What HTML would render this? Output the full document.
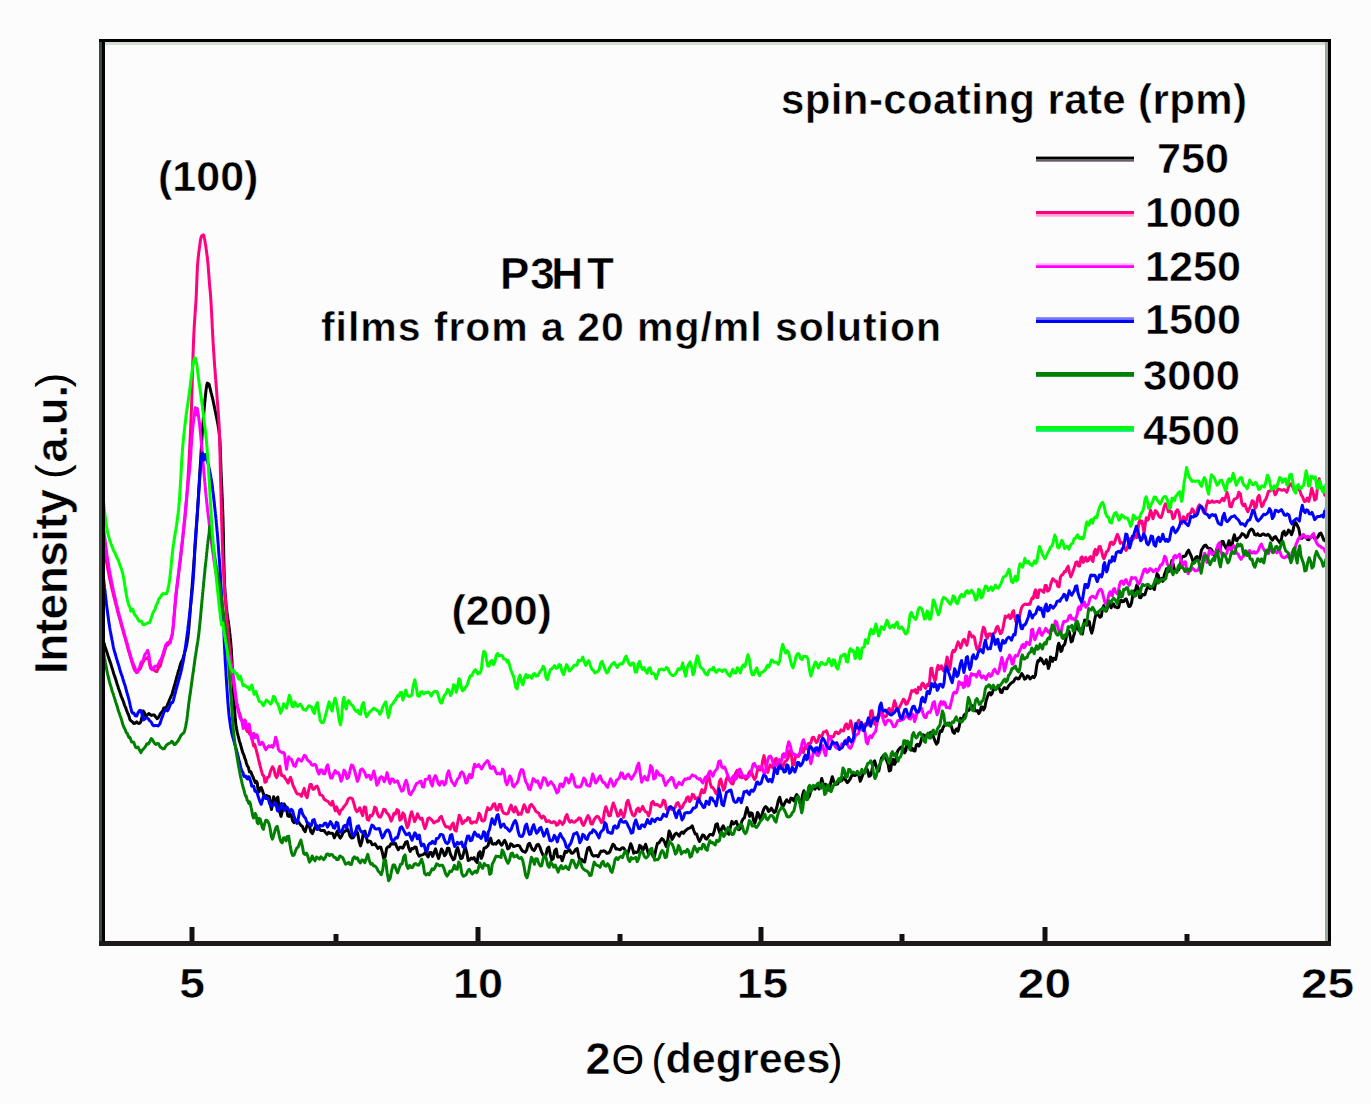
<!DOCTYPE html>
<html><head><meta charset="utf-8"><style>
html,body{margin:0;padding:0;background:#fff;width:1371px;height:1104px;overflow:hidden}
svg{display:block;font-family:"Liberation Sans", sans-serif}
</style></head><body>
<svg width="1371" height="1104" viewBox="0 0 1371 1104">
<rect x="0" y="0" width="1371" height="1104" fill="#fcfcfd"/>
<g clip-path="url(#cp)">
<clipPath id="cp"><rect x="104" y="43" width="1222" height="898"/></clipPath>
<path id="c_black" d="M103.0,638.0 103.0,639.3 103.0,640.6 103.4,641.7 103.9,642.8 104.4,644.3 104.8,645.9 105.3,647.4 105.8,648.9 106.2,650.3 106.7,651.7 107.2,653.1 107.7,654.6 108.1,656.0 108.6,657.5 109.1,658.9 109.5,660.3 110.0,661.6 110.5,662.9 111.0,664.3 111.4,665.9 111.9,667.5 112.4,668.9 112.8,670.4 113.3,672.1 113.7,673.7 114.2,675.0 114.6,676.1 115.1,677.5 115.6,679.1 116.0,680.4 116.5,681.7 116.9,683.5 117.4,685.0 117.9,686.2 118.3,687.7 118.8,689.2 119.3,690.5 119.8,691.9 120.3,693.4 120.8,695.0 121.3,696.5 121.8,697.7 122.4,699.0 122.9,700.3 123.4,701.5 123.8,702.8 124.3,704.4 124.8,705.8 125.3,706.8 125.8,707.9 126.3,709.5 126.8,710.9 127.3,712.2 127.9,713.7 128.5,714.8 129.1,716.7 129.8,719.2 130.6,720.6 131.5,721.0 132.5,722.1 133.9,723.6 135.4,723.0 136.7,721.9 137.8,722.9 138.9,723.6 140.0,722.9 141.0,721.2 142.1,716.4 143.2,710.9 144.4,712.6 145.8,716.5 147.3,715.0 148.8,713.5 150.2,714.6 151.6,715.4 152.9,715.0 154.3,714.9 155.8,717.1 157.2,718.7 158.7,717.1 160.0,714.4 161.2,712.6 162.2,711.7 163.1,709.8 163.9,707.9 164.7,707.8 165.4,707.8 166.1,707.5 166.8,706.5 167.4,704.7 168.0,703.3 168.6,702.1 169.2,700.5 169.8,699.1 170.4,697.9 170.9,696.5 171.5,695.3 172.0,694.2 172.5,692.7 172.9,690.8 173.4,689.1 173.8,687.8 174.2,686.4 174.6,685.0 175.0,683.7 175.4,682.2 175.8,680.7 176.2,679.2 176.6,677.6 177.0,676.2 177.4,674.9 177.8,673.4 178.2,671.9 178.6,670.5 179.1,669.2 179.5,667.7 180.0,665.9 180.5,664.2 181.0,662.7 181.5,661.6 182.0,660.7 182.6,659.7 183.1,658.2 183.5,656.5 184.0,654.8 184.5,653.2 184.9,651.7 185.3,650.3 185.7,649.0 186.0,647.6 186.4,646.2 186.7,644.8 186.9,643.3 187.2,641.8 187.4,640.4 187.6,638.9 187.9,637.4 188.0,635.9 188.2,634.4 188.4,632.9 188.5,631.4 188.7,629.9 188.8,628.4 189.0,626.9 189.1,625.4 189.2,623.9 189.3,622.4 189.4,620.9 189.5,619.4 189.7,618.0 189.8,616.5 189.9,615.0 190.0,613.5 190.1,612.0 190.2,610.5 190.3,609.0 190.4,607.5 190.5,606.0 190.6,604.5 190.8,603.0 190.9,601.5 191.0,600.0 191.1,598.5 191.2,597.0 191.4,595.5 191.5,594.0 191.6,592.5 191.7,591.0 191.8,589.5 192.0,588.0 192.1,586.5 192.2,585.1 192.3,583.6 192.4,582.1 192.6,580.6 192.7,579.1 192.8,577.6 192.9,576.1 193.0,574.6 193.1,573.1 193.2,571.6 193.4,570.1 193.5,568.6 193.6,567.1 193.7,565.6 193.8,564.1 193.9,562.6 194.0,561.1 194.2,559.6 194.3,558.1 194.4,556.6 194.5,555.1 194.6,553.6 194.7,552.1 194.8,550.6 194.9,549.2 195.0,547.7 195.1,546.2 195.2,544.7 195.4,543.2 195.5,541.7 195.6,540.2 195.7,538.7 195.8,537.2 195.9,535.7 196.0,534.2 196.1,532.7 196.2,531.2 196.3,529.7 196.4,528.2 196.5,526.7 196.6,525.2 196.7,523.7 196.8,522.2 196.9,520.7 197.0,519.2 197.1,517.7 197.2,516.2 197.3,514.7 197.4,513.2 197.5,511.7 197.5,510.2 197.6,508.7 197.7,507.2 197.8,505.8 197.9,504.3 198.0,502.8 198.1,501.3 198.2,499.8 198.3,498.3 198.4,496.8 198.5,495.3 198.6,493.8 198.6,492.3 198.7,490.8 198.8,489.3 198.9,487.8 199.0,486.3 199.1,484.8 199.2,483.3 199.3,481.8 199.4,480.3 199.5,478.8 199.6,477.3 199.6,475.8 199.7,474.3 199.8,472.8 199.9,471.3 200.0,469.8 200.1,468.3 200.2,466.8 200.3,465.3 200.4,463.8 200.5,462.3 200.6,460.8 200.7,459.3 200.7,457.8 200.8,456.3 200.9,454.8 201.0,453.3 201.1,451.9 201.2,450.4 201.3,448.9 201.4,447.4 201.5,445.9 201.6,444.4 201.7,442.9 201.7,441.4 201.8,439.9 201.9,438.4 202.0,436.9 202.1,435.4 202.2,433.9 202.3,432.4 202.4,430.9 202.5,429.4 202.7,427.9 202.8,426.4 202.9,424.9 203.0,423.4 203.1,421.9 203.2,420.4 203.3,418.9 203.4,417.4 203.6,415.9 203.7,414.4 203.8,412.9 203.9,411.4 204.1,410.0 204.2,408.5 204.3,407.0 204.5,405.5 204.6,404.0 204.7,402.5 204.9,401.0 205.1,399.5 205.2,398.0 205.4,396.5 205.5,395.0 205.7,393.5 205.8,392.1 206.0,390.6 206.2,389.1 206.4,387.6 206.6,386.1 206.9,384.6 207.3,383.1 208.2,386.0 208.8,383.9 209.3,384.9 209.6,386.4 210.0,387.9 210.4,389.5 210.7,391.2 211.1,392.6 211.5,393.8 211.8,395.4 212.2,396.8 212.5,398.2 212.9,399.7 213.2,401.2 213.5,402.7 213.8,404.2 214.1,405.5 214.4,406.9 214.7,408.4 215.0,410.0 215.3,411.4 215.6,412.8 215.9,414.3 216.2,415.8 216.5,417.1 216.8,418.7 217.1,420.3 217.4,421.7 217.7,423.2 218.0,424.7 218.2,426.2 218.5,427.7 218.7,429.2 218.9,430.6 219.1,432.1 219.2,433.6 219.4,435.1 219.5,436.6 219.7,438.1 219.8,439.6 219.9,441.1 220.0,442.6 220.1,444.1 220.1,445.6 220.2,447.1 220.3,448.6 220.3,450.1 220.4,451.6 220.4,453.1 220.5,454.6 220.5,456.1 220.6,457.6 220.6,459.1 220.7,460.6 220.7,462.1 220.8,463.6 220.8,465.1 220.9,466.6 220.9,468.1 221.0,469.5 221.0,471.0 221.1,472.5 221.2,474.0 221.2,475.5 221.3,477.0 221.4,478.5 221.4,480.0 221.5,481.5 221.6,483.0 221.6,484.5 221.7,486.0 221.8,487.5 221.8,489.0 221.9,490.5 221.9,492.0 222.0,493.5 222.1,495.0 222.1,496.5 222.2,498.0 222.3,499.5 222.3,501.0 222.4,502.5 222.4,504.0 222.5,505.5 222.5,507.0 222.6,508.5 222.7,510.0 222.7,511.5 222.8,513.0 222.8,514.5 222.9,516.0 222.9,517.5 223.0,519.0 223.0,520.5 223.1,522.0 223.1,523.5 223.1,525.0 223.2,526.5 223.2,528.0 223.3,529.5 223.3,531.0 223.3,532.5 223.4,534.0 223.4,535.5 223.4,537.0 223.4,538.5 223.5,540.0 223.5,541.5 223.5,543.0 223.6,544.5 223.6,546.0 223.6,547.5 223.6,549.0 223.7,550.5 223.7,552.0 223.7,553.5 223.7,555.0 223.8,556.5 223.8,558.0 223.8,559.5 223.9,561.0 223.9,562.5 223.9,564.0 224.0,565.5 224.0,567.0 224.0,568.5 224.1,570.0 224.1,571.5 224.2,573.0 224.2,574.5 224.3,576.0 224.3,577.5 224.4,579.0 224.4,580.5 224.5,582.0 224.6,583.5 224.6,585.0 224.7,586.5 224.8,588.0 224.9,589.5 224.9,591.0 225.0,592.5 225.1,594.0 225.3,595.5 225.4,597.0 225.5,598.5 225.6,600.0 225.8,601.4 225.9,602.9 226.1,604.4 226.2,605.9 226.4,607.4 226.6,608.9 226.8,610.4 226.9,611.9 227.1,613.4 227.3,614.8 227.5,616.3 227.7,617.8 227.9,619.3 228.2,620.8 228.4,622.3 228.6,623.8 228.8,625.3 229.0,626.8 229.2,628.2 229.4,629.7 229.6,631.2 229.7,632.7 229.9,634.2 230.1,635.7 230.2,637.2 230.4,638.6 230.5,640.1 230.7,641.6 230.8,643.1 230.9,644.6 231.0,646.1 231.2,647.6 231.3,649.1 231.4,650.6 231.5,652.1 231.5,653.6 231.6,655.1 231.7,656.6 231.8,658.1 231.9,659.6 232.0,661.1 232.1,662.6 232.1,664.1 232.2,665.6 232.3,667.1 232.3,668.6 232.4,670.1 232.5,671.6 232.6,673.1 232.6,674.6 232.7,676.1 232.8,677.6 232.8,679.1 232.9,680.6 233.0,682.1 233.0,683.6 233.1,685.1 233.2,686.6 233.3,688.1 233.4,689.6 233.4,691.1 233.5,692.6 233.6,694.1 233.7,695.6 233.8,697.1 233.9,698.5 234.0,700.0 234.1,701.5 234.2,703.0 234.3,704.5 234.4,706.0 234.5,707.5 234.6,709.0 234.7,710.5 234.8,712.0 234.9,713.5 235.0,715.0 235.1,716.5 235.2,718.0 235.3,719.5 235.5,721.0 235.6,722.5 235.8,724.0 236.0,725.5 236.3,727.0 236.5,728.5 236.8,730.1 237.1,731.6 237.4,733.1 237.8,734.5 238.1,735.9 238.5,737.2 238.9,738.9 239.2,740.5 239.6,741.7 240.0,742.7 240.4,744.3 240.9,745.9 241.3,747.3 241.7,749.0 242.2,750.5 242.6,752.0 243.1,753.4 243.5,754.1 244.0,755.3 244.5,757.1 244.9,758.5 245.4,759.3 245.9,761.1 246.4,763.2 246.9,764.6 247.4,765.9 248.0,766.7 248.5,767.7 249.0,770.1 249.6,772.1 250.2,772.1 250.7,771.7 251.3,772.9 252.0,774.9 252.6,776.1 253.3,777.7 254.0,779.7 254.7,781.1 255.5,782.8 256.3,781.4 257.2,782.7 258.1,790.0 259.1,791.8 260.1,788.3 261.2,787.5 262.2,790.0 263.3,793.2 264.3,796.9 265.4,797.9 266.4,795.3 267.4,796.1 268.5,796.3 269.5,796.9 270.5,805.1 271.5,809.5 272.6,802.8 273.6,796.7 274.6,801.1 275.7,804.8 276.7,798.6 277.8,797.0 278.8,804.9 279.9,812.4 281.0,816.4 282.1,812.2 283.2,804.0 284.3,804.1 285.5,806.4 286.6,809.4 287.8,815.9 289.0,816.4 290.2,813.9 291.5,816.2 292.7,821.0 294.0,822.7 295.4,821.1 296.7,820.8 298.1,821.2 299.5,823.4 300.9,825.4 302.3,826.2 303.7,829.7 305.1,831.7 306.6,826.7 308.0,823.1 309.5,826.6 311.0,832.0 312.4,833.6 313.9,829.9 315.4,826.5 316.8,825.5 318.3,826.9 319.8,829.8 321.2,830.6 322.7,830.4 324.2,830.6 325.6,832.8 327.1,834.3 328.5,832.4 330.0,833.3 331.4,833.3 332.9,833.7 334.3,837.9 335.8,834.7 337.3,831.0 338.7,835.5 340.2,838.1 341.6,836.1 343.1,832.7 344.5,831.5 346.0,830.5 347.4,829.0 348.9,832.2 350.3,836.7 351.8,838.1 353.2,837.6 354.7,835.3 356.2,831.0 357.6,832.8 359.1,841.3 360.5,845.9 362.0,841.0 363.4,832.5 364.9,831.0 366.3,837.4 367.8,842.2 369.2,841.0 370.7,841.7 372.1,844.7 373.6,844.6 375.0,843.9 376.5,846.2 377.9,848.4 379.3,847.1 380.8,847.3 382.2,851.9 383.7,858.4 385.1,857.0 386.6,848.4 388.0,846.8 389.5,846.7 390.9,843.7 392.4,844.0 393.9,843.9 395.3,843.3 396.8,846.9 398.3,849.7 399.7,847.3 401.2,847.2 402.7,848.2 404.2,845.3 405.7,842.1 407.2,841.6 408.7,847.8 410.2,851.4 411.7,848.5 413.1,848.9 414.6,847.1 416.1,847.2 417.6,853.3 419.1,856.1 420.6,855.2 422.1,854.9 423.6,854.4 425.1,852.6 426.6,854.7 428.1,856.9 429.6,852.8 431.1,852.4 432.6,856.4 434.1,852.4 435.6,848.9 437.1,854.5 438.6,858.6 440.0,854.1 441.5,849.0 443.0,851.4 444.5,855.8 445.9,854.3 447.4,848.2 448.9,848.2 450.3,854.0 451.8,857.1 453.3,859.8 454.7,858.5 456.2,850.7 457.7,847.6 459.2,853.4 460.7,858.6 462.2,858.0 463.7,852.8 465.2,847.3 466.7,852.1 468.2,860.5 469.7,859.8 471.2,858.0 472.7,858.9 474.1,857.5 475.6,860.9 477.1,862.4 478.5,853.5 480.0,851.6 481.4,858.4 482.8,854.7 484.1,848.0 485.5,847.8 486.8,846.8 488.1,845.4 489.4,840.2 490.7,838.2 492.0,843.6 493.3,844.3 494.6,843.6 496.0,844.2 497.4,841.9 498.8,840.7 500.2,843.5 501.7,845.2 503.2,842.7 504.7,840.3 506.2,843.3 507.7,848.9 509.2,848.0 510.7,843.8 512.1,844.6 513.6,846.6 515.1,846.1 516.6,845.6 518.0,845.4 519.5,845.9 520.9,848.6 522.4,850.9 523.8,851.7 525.3,852.3 526.7,849.9 528.2,844.4 529.6,843.3 531.1,846.8 532.5,849.6 534.0,850.6 535.5,848.2 536.9,844.9 538.4,844.4 539.9,847.0 541.3,851.3 542.8,854.7 544.3,856.3 545.8,855.5 547.3,848.8 548.8,847.0 550.3,854.6 551.7,859.8 553.2,858.8 554.7,850.8 556.2,849.0 557.7,857.0 559.2,856.9 560.7,856.3 562.2,860.8 563.7,856.3 565.2,851.3 566.7,852.3 568.2,850.4 569.7,849.8 571.2,853.0 572.7,853.3 574.2,851.8 575.7,849.3 577.2,848.6 578.7,856.1 580.2,861.4 581.7,859.4 583.2,861.5 584.7,862.0 586.2,854.4 587.7,848.2 589.2,847.3 590.7,851.0 592.1,854.8 593.6,856.1 595.1,855.8 596.6,855.6 598.1,856.7 599.6,853.8 601.0,851.1 602.5,851.4 604.0,850.7 605.5,851.8 607.0,853.4 608.4,853.1 609.9,851.6 611.4,847.9 612.9,844.2 614.4,845.5 615.9,848.9 617.3,848.8 618.8,849.3 620.3,849.8 621.8,848.0 623.3,847.8 624.8,849.6 626.3,852.8 627.8,853.6 629.2,848.8 630.7,843.7 632.2,847.1 633.7,853.2 635.2,852.0 636.7,852.5 638.2,851.7 639.7,845.4 641.2,846.4 642.6,850.9 644.1,848.1 645.6,844.2 647.1,849.2 648.6,854.3 650.1,852.4 651.5,851.9 653.0,856.2 654.5,856.5 656.0,848.8 657.5,843.2 658.9,843.0 660.4,840.6 661.8,838.6 663.3,839.7 664.8,842.7 666.2,846.5 667.7,840.4 669.1,831.0 670.6,834.0 672.0,839.5 673.5,837.2 674.9,834.1 676.3,833.1 677.8,834.3 679.2,836.2 680.7,833.2 682.1,832.0 683.6,833.3 685.0,831.1 686.4,829.8 687.9,828.6 689.3,828.1 690.8,827.4 692.2,825.8 693.7,830.3 695.2,834.0 696.6,834.0 698.1,838.6 699.6,841.5 701.0,838.3 702.5,835.0 704.0,835.4 705.5,838.5 706.9,839.1 708.4,836.4 709.9,834.5 711.4,834.5 712.8,835.3 714.3,831.0 715.8,824.5 717.3,823.7 718.8,830.1 720.2,834.1 721.7,828.2 723.2,825.8 724.7,829.0 726.1,830.5 727.6,833.1 729.0,834.2 730.5,826.5 731.9,821.4 733.4,824.0 734.8,823.0 736.2,821.3 737.6,825.0 739.0,829.7 740.4,828.2 741.7,821.7 743.1,818.8 744.4,818.0 745.7,812.4 747.0,807.6 748.3,812.1 749.6,816.4 750.9,812.8 752.2,813.3 753.5,820.2 754.8,823.4 756.2,818.8 757.5,812.4 758.8,814.3 760.2,819.1 761.6,816.7 763.0,811.1 764.3,808.0 765.7,806.6 767.1,807.9 768.5,811.4 769.9,810.5 771.3,808.2 772.7,810.2 774.1,812.6 775.5,811.5 776.9,807.0 778.3,800.6 779.7,797.2 781.1,802.4 782.5,806.7 783.9,805.0 785.3,801.9 786.7,799.8 788.1,801.7 789.5,802.3 791.0,798.1 792.4,798.5 793.9,800.9 795.3,797.4 796.7,794.5 798.2,796.7 799.6,802.3 801.0,804.0 802.5,795.2 803.9,790.8 805.3,797.2 806.8,799.8 808.2,798.1 809.6,795.7 810.9,790.2 812.3,786.9 813.7,788.5 815.0,789.2 816.3,787.0 817.7,785.6 819.0,789.0 820.3,785.0 821.7,778.5 823.0,783.0 824.3,787.0 825.6,784.3 826.9,785.6 828.3,790.1 829.6,788.4 830.9,781.8 832.3,776.7 833.6,780.9 834.9,784.6 836.3,784.3 837.6,784.1 839.0,781.2 840.3,780.4 841.7,780.8 843.1,778.5 844.5,777.3 845.9,780.6 847.3,782.6 848.7,781.2 850.1,779.2 851.6,775.9 853.0,774.0 854.5,775.6 855.9,775.0 857.4,771.6 858.8,775.2 860.3,781.3 861.7,777.7 863.2,773.5 864.7,772.7 866.1,768.1 867.6,770.1 869.0,776.3 870.4,775.7 871.9,770.3 873.3,762.5 874.7,760.8 876.1,766.3 877.5,771.2 878.8,771.0 880.2,763.7 881.5,758.1 882.9,756.3 884.2,754.8 885.5,757.9 886.8,761.0 888.1,764.3 889.3,770.9 890.6,770.2 891.9,761.3 893.2,759.2 894.4,764.4 895.7,762.1 896.9,753.4 898.2,750.0 899.4,748.9 900.7,747.3 902.0,746.8 903.2,748.3 904.5,752.9 905.8,750.7 907.1,743.2 908.4,742.3 909.7,747.3 911.0,750.2 912.3,748.3 913.6,750.8 915.0,751.0 916.3,745.0 917.6,744.2 919.0,746.1 920.3,743.5 921.7,738.0 923.1,734.7 924.4,735.8 925.8,736.9 927.1,734.8 928.5,733.9 929.8,732.8 931.2,732.2 932.5,734.5 933.9,737.9 935.2,741.6 936.5,744.1 937.9,742.4 939.2,734.5 940.5,730.7 941.8,731.4 943.1,727.6 944.4,725.4 945.6,724.5 946.9,724.5 948.2,724.9 949.4,723.2 950.7,724.5 951.9,728.2 953.1,732.2 954.4,733.3 955.6,730.0 956.8,728.8 958.0,731.2 959.3,726.2 960.5,718.3 961.7,719.0 962.9,718.8 964.1,715.1 965.3,714.4 966.6,712.2 967.8,709.9 969.0,710.3 970.2,707.9 971.4,706.2 972.7,705.8 973.9,706.3 975.1,710.7 976.3,710.9 977.6,710.6 978.8,713.7 980.0,711.8 981.2,707.1 982.4,707.0 983.6,709.9 984.9,707.3 986.1,700.8 987.3,697.2 988.5,693.6 989.7,692.5 990.9,694.9 992.1,693.6 993.3,689.8 994.6,689.5 995.8,689.4 997.0,687.7 998.2,687.3 999.5,688.8 1000.7,692.3 1002.0,692.4 1003.2,688.9 1004.5,687.5 1005.7,688.7 1007.0,688.7 1008.3,686.4 1009.6,684.7 1010.9,683.4 1012.2,682.4 1013.6,681.6 1014.9,679.0 1016.3,677.7 1017.7,678.9 1019.0,678.8 1020.4,676.1 1021.8,673.5 1023.2,675.8 1024.6,679.2 1025.9,678.5 1027.3,675.9 1028.7,676.5 1030.1,678.9 1031.4,677.8 1032.7,676.4 1034.1,677.6 1035.4,675.3 1036.7,665.6 1037.9,660.8 1039.2,661.0 1040.4,658.1 1041.6,659.1 1042.8,661.9 1043.9,663.9 1045.1,663.1 1046.2,659.7 1047.3,662.9 1048.4,668.4 1049.5,665.2 1050.5,656.9 1051.6,658.0 1052.6,661.4 1053.7,658.4 1054.7,658.8 1055.7,659.4 1056.8,654.1 1057.8,646.4 1058.8,643.2 1059.8,646.6 1060.9,651.5 1061.9,650.5 1062.9,645.9 1063.9,645.4 1064.9,643.6 1066.0,638.3 1067.0,633.4 1068.0,630.6 1069.1,631.2 1070.1,636.1 1071.2,641.9 1072.3,641.1 1073.4,636.5 1074.5,633.3 1075.6,626.2 1076.7,622.3 1077.8,628.3 1079.0,630.5 1080.1,628.8 1081.2,632.3 1082.4,634.0 1083.5,627.2 1084.7,619.9 1085.8,622.6 1087.0,625.1 1088.2,621.0 1089.3,621.6 1090.5,629.0 1091.7,633.1 1092.9,629.1 1094.1,622.5 1095.3,616.8 1096.5,612.7 1097.7,613.6 1098.9,615.9 1100.1,617.2 1101.3,616.3 1102.5,609.0 1103.8,605.6 1105.0,609.4 1106.2,611.1 1107.4,608.0 1108.7,602.9 1109.9,604.2 1111.1,607.8 1112.4,605.1 1113.6,603.8 1114.9,606.9 1116.2,607.0 1117.4,607.8 1118.7,607.2 1119.9,601.6 1121.2,600.0 1122.5,601.8 1123.8,601.6 1125.0,599.5 1126.3,599.0 1127.6,602.7 1128.9,606.5 1130.2,606.2 1131.5,603.0 1132.8,595.2 1134.1,591.1 1135.5,590.2 1136.8,585.1 1138.2,588.1 1139.5,597.5 1140.9,597.8 1142.2,594.2 1143.6,595.1 1145.0,594.5 1146.3,589.9 1147.7,587.3 1149.0,587.9 1150.4,588.5 1151.7,587.6 1153.1,587.7 1154.4,589.5 1155.7,582.2 1157.0,573.6 1158.3,575.3 1159.5,580.5 1160.7,580.3 1161.7,578.3 1162.7,581.4 1163.4,580.5 1164.1,576.1 1164.6,574.0 1165.1,573.0 1165.7,571.2 1166.4,568.8 1167.2,571.4 1168.2,571.7 1169.4,570.9 1170.6,567.2 1171.9,560.4 1173.2,564.3 1174.6,570.6 1175.9,571.5 1177.3,570.2 1178.7,570.1 1180.1,565.9 1181.5,558.2 1182.9,556.3 1184.3,556.5 1185.7,555.6 1187.1,552.1 1188.6,550.2 1190.0,553.5 1191.4,556.4 1192.8,560.9 1194.3,562.8 1195.7,557.4 1197.1,556.5 1198.6,561.4 1200.0,557.9 1201.4,550.2 1202.9,547.8 1204.3,545.6 1205.8,545.1 1207.2,547.4 1208.7,548.2 1210.1,548.5 1211.6,549.6 1213.0,552.8 1214.5,555.8 1216.0,551.4 1217.4,547.4 1218.9,550.9 1220.3,548.8 1221.8,541.6 1223.2,541.5 1224.7,545.7 1226.1,548.2 1227.6,545.5 1229.0,540.7 1230.4,545.6 1231.7,549.0 1233.1,539.0 1234.4,534.8 1235.7,539.9 1237.0,540.6 1238.3,538.1 1239.5,537.7 1240.8,535.9 1242.0,533.6 1243.3,534.1 1244.6,535.3 1246.0,537.4 1247.3,536.5 1248.8,532.2 1250.2,530.0 1251.7,529.0 1253.2,530.5 1254.7,534.7 1256.2,535.2 1257.7,533.7 1259.2,535.4 1260.7,535.6 1262.1,534.3 1263.6,534.0 1265.1,535.0 1266.6,535.3 1268.1,534.4 1269.6,535.8 1271.1,538.7 1272.6,540.1 1274.0,537.3 1275.5,536.6 1276.9,538.9 1278.3,540.4 1279.8,542.8 1281.2,540.5 1282.6,532.7 1284.1,531.2 1285.5,535.3 1287.0,533.8 1288.5,530.1 1290.0,531.2 1291.5,534.6 1293.0,530.7 1294.5,522.4 1295.9,522.7 1297.3,525.5 1298.8,528.6 1300.2,536.2 1301.6,538.4 1303.1,536.7 1304.5,537.1 1306.0,537.0 1307.4,539.4 1308.9,539.7 1310.4,537.6 1311.9,536.4 1313.4,536.8 1314.9,538.7 1316.4,538.5 1317.9,537.0 1319.4,533.9 1320.9,533.1 1322.4,536.4 1323.8,539.9 1325.3,540.9 1326.8,537.9" stroke="#000000" fill="none" stroke-width="3.0" stroke-linejoin="round"/><path id="c_pink" d="M103.0,530.0 103.0,531.5 103.0,533.0 103.0,534.4 103.0,535.9 103.0,537.4 103.3,538.9 103.5,540.4 103.7,541.9 103.9,543.4 104.1,544.9 104.3,546.4 104.5,547.8 104.7,549.3 104.9,550.8 105.1,552.3 105.4,553.8 105.6,555.2 105.8,556.7 106.0,558.2 106.3,559.7 106.5,561.2 106.7,562.7 107.0,564.1 107.2,565.6 107.5,567.1 107.7,568.6 108.0,570.0 108.3,571.5 108.6,573.0 108.9,574.5 109.2,575.9 109.5,577.4 109.8,578.9 110.1,580.4 110.4,581.8 110.7,583.3 111.1,584.8 111.4,586.3 111.7,587.8 112.1,589.3 112.4,590.6 112.8,592.0 113.1,593.4 113.5,595.0 113.8,596.5 114.2,597.9 114.6,599.3 114.9,600.7 115.3,602.1 115.7,603.5 116.0,604.9 116.4,606.4 116.8,608.0 117.2,609.5 117.5,610.9 117.9,612.4 118.3,614.0 118.7,615.5 119.1,616.9 119.5,618.3 119.9,619.7 120.3,620.9 120.6,622.3 121.0,623.9 121.4,625.4 121.8,626.8 122.2,628.2 122.7,629.6 123.1,631.0 123.5,632.5 123.9,634.1 124.3,635.5 124.7,636.8 125.1,638.2 125.5,639.7 125.9,641.2 126.3,642.6 126.8,644.1 127.2,645.7 127.6,647.3 128.0,648.9 128.4,650.3 128.8,651.7 129.2,652.8 129.6,654.0 130.0,655.5 130.4,657.0 130.9,658.5 131.3,660.2 131.7,661.7 132.2,663.1 132.6,664.4 133.1,665.8 133.6,667.3 134.2,668.9 134.9,670.7 135.9,671.0 137.3,670.1 138.4,669.7 139.3,669.8 140.2,668.6 141.2,666.6 142.0,664.3 142.8,662.7 143.4,661.5 144.1,660.2 144.8,659.2 145.5,658.7 146.3,658.8 147.6,657.4 148.4,658.1 148.8,659.7 149.1,661.2 149.4,662.6 149.6,664.1 149.9,665.5 150.3,667.0 150.7,668.4 151.4,668.8 152.8,669.0 154.3,670.3 155.6,671.2 156.8,671.5 157.9,669.2 158.8,666.9 159.7,666.7 160.4,665.7 161.0,663.1 161.5,660.9 162.0,659.5 162.5,658.2 162.9,656.9 163.3,655.5 163.8,654.1 164.2,652.7 164.6,651.3 165.0,649.6 165.5,648.2 165.9,647.0 166.5,645.9 167.1,645.4 168.0,644.9 169.2,643.0 170.3,639.9 171.0,638.7 171.5,637.9 171.8,636.6 172.1,635.2 172.4,633.8 172.6,632.3 172.8,630.8 172.9,629.3 173.1,627.8 173.3,626.3 173.4,624.8 173.6,623.3 173.7,621.8 173.8,620.3 173.9,618.9 174.1,617.4 174.2,615.9 174.3,614.4 174.4,612.9 174.6,611.4 174.7,609.9 174.8,608.4 174.9,606.9 175.1,605.4 175.2,603.9 175.4,602.4 175.5,600.9 175.6,599.4 175.8,597.9 176.0,596.4 176.1,594.9 176.3,593.5 176.5,592.0 176.6,590.5 176.8,589.0 177.0,587.5 177.2,586.0 177.3,584.5 177.5,583.0 177.7,581.5 177.9,580.1 178.1,578.6 178.3,577.1 178.5,575.6 178.6,574.1 178.8,572.6 179.0,571.1 179.2,569.6 179.4,568.1 179.6,566.7 179.7,565.2 179.9,563.7 180.1,562.2 180.3,560.7 180.5,559.2 180.6,557.7 180.8,556.2 181.0,554.8 181.1,553.3 181.3,551.8 181.5,550.3 181.6,548.8 181.8,547.3 182.0,545.8 182.1,544.3 182.3,542.8 182.4,541.3 182.6,539.8 182.8,538.3 182.9,536.9 183.1,535.4 183.3,533.9 183.4,532.4 183.6,530.9 183.7,529.4 183.9,527.9 184.1,526.4 184.2,524.9 184.4,523.4 184.5,521.9 184.7,520.4 184.8,519.0 185.0,517.5 185.1,516.0 185.3,514.5 185.4,513.0 185.5,511.5 185.7,510.0 185.8,508.5 185.9,507.0 186.1,505.5 186.2,504.0 186.3,502.5 186.5,501.0 186.6,499.5 186.7,498.0 186.8,496.5 186.9,495.0 187.0,493.5 187.1,492.1 187.2,490.6 187.3,489.1 187.5,487.6 187.6,486.1 187.7,484.6 187.7,483.1 187.8,481.6 187.9,480.1 188.0,478.6 188.1,477.1 188.2,475.6 188.3,474.1 188.4,472.6 188.5,471.1 188.6,469.6 188.7,468.1 188.7,466.6 188.8,465.1 188.9,463.6 189.0,462.1 189.1,460.6 189.1,459.1 189.2,457.6 189.3,456.1 189.4,454.6 189.5,453.1 189.5,451.6 189.6,450.1 189.7,448.6 189.8,447.1 189.8,445.6 189.9,444.1 190.0,442.6 190.0,441.1 190.1,439.6 190.2,438.1 190.3,436.6 190.3,435.1 190.4,433.6 190.5,432.1 190.5,430.6 190.6,429.1 190.7,427.6 190.7,426.2 190.8,424.7 190.9,423.2 190.9,421.7 191.0,420.2 191.1,418.7 191.1,417.2 191.2,415.7 191.2,414.2 191.3,412.7 191.3,411.2 191.4,409.7 191.5,408.2 191.5,406.7 191.6,405.2 191.6,403.7 191.7,402.2 191.7,400.7 191.8,399.2 191.8,397.7 191.8,396.2 191.9,394.7 191.9,393.2 192.0,391.7 192.0,390.2 192.1,388.7 192.1,387.2 192.2,385.7 192.2,384.2 192.2,382.7 192.3,381.2 192.3,379.7 192.4,378.2 192.4,376.7 192.4,375.2 192.5,373.7 192.5,372.2 192.6,370.7 192.6,369.2 192.7,367.7 192.7,366.2 192.7,364.7 192.8,363.2 192.8,361.7 192.9,360.2 192.9,358.7 193.0,357.2 193.0,355.7 193.1,354.2 193.1,352.7 193.2,351.2 193.2,349.7 193.3,348.2 193.3,346.7 193.4,345.2 193.4,343.7 193.5,342.2 193.6,340.7 193.6,339.2 193.7,337.7 193.8,336.2 193.8,334.7 193.9,333.2 194.0,331.7 194.1,330.2 194.1,328.7 194.2,327.2 194.3,325.7 194.4,324.2 194.5,322.7 194.6,321.2 194.7,319.7 194.8,318.2 194.9,316.7 195.0,315.2 195.1,313.7 195.2,312.2 195.3,310.8 195.4,309.3 195.5,307.8 195.6,306.3 195.7,304.8 195.8,303.3 195.9,301.8 196.0,300.3 196.1,298.8 196.1,297.3 196.2,295.8 196.3,294.3 196.3,292.8 196.4,291.3 196.5,289.8 196.5,288.3 196.6,286.8 196.6,285.3 196.7,283.8 196.8,282.3 196.8,280.8 196.9,279.3 196.9,277.8 197.0,276.3 197.1,274.8 197.1,273.3 197.2,271.8 197.3,270.3 197.4,268.8 197.4,267.3 197.5,265.8 197.6,264.3 197.8,262.8 197.9,261.3 198.0,259.8 198.2,258.3 198.3,256.8 198.5,255.4 198.6,253.9 198.8,252.4 199.0,250.9 199.2,249.4 199.4,247.9 199.6,246.4 199.8,244.9 200.0,243.5 200.2,242.0 200.4,240.4 200.7,239.0 201.0,237.7 201.3,236.6 201.7,235.8 202.3,236.2 203.3,234.9 203.8,235.1 204.1,236.7 204.4,238.3 204.7,239.7 205.0,241.2 205.2,242.6 205.4,244.0 205.7,245.5 205.9,247.0 206.1,248.5 206.3,250.0 206.5,251.4 206.7,252.9 206.9,254.4 207.1,255.9 207.3,257.4 207.5,258.9 207.6,260.4 207.8,261.9 207.9,263.4 208.0,264.8 208.2,266.3 208.3,267.8 208.4,269.3 208.5,270.8 208.6,272.3 208.8,273.8 208.9,275.3 209.0,276.8 209.1,278.3 209.2,279.8 209.3,281.3 209.4,282.8 209.5,284.3 209.7,285.8 209.8,287.3 209.9,288.8 210.1,290.3 210.2,291.8 210.4,293.3 210.5,294.7 210.6,296.2 210.7,297.7 210.8,299.2 210.9,300.7 211.0,302.2 211.1,303.7 211.2,305.2 211.3,306.7 211.3,308.2 211.4,309.7 211.5,311.2 211.6,312.7 211.7,314.2 211.7,315.7 211.8,317.2 211.9,318.7 212.0,320.2 212.0,321.7 212.1,323.2 212.2,324.7 212.2,326.2 212.3,327.7 212.4,329.2 212.5,330.7 212.6,332.2 212.6,333.7 212.7,335.2 212.8,336.7 212.9,338.2 213.0,339.7 213.0,341.2 213.1,342.7 213.2,344.2 213.3,345.7 213.4,347.2 213.5,348.7 213.6,350.2 213.7,351.7 213.8,353.2 213.9,354.7 214.0,356.1 214.1,357.6 214.2,359.1 214.3,360.6 214.4,362.1 214.5,363.6 214.6,365.1 214.7,366.6 214.8,368.1 215.0,369.6 215.1,371.1 215.2,372.6 215.3,374.1 215.4,375.6 215.5,377.1 215.6,378.6 215.8,380.1 215.9,381.6 216.0,383.1 216.1,384.6 216.2,386.1 216.3,387.6 216.5,389.1 216.6,390.6 216.7,392.0 216.8,393.5 216.9,395.0 217.0,396.5 217.1,398.0 217.2,399.5 217.3,401.0 217.4,402.5 217.6,404.0 217.7,405.5 217.8,407.0 217.9,408.5 218.0,410.0 218.1,411.5 218.3,413.0 218.4,414.5 218.5,416.0 218.6,417.5 218.7,419.0 218.8,420.5 218.9,422.0 219.0,423.5 219.1,425.0 219.1,426.5 219.2,428.0 219.3,429.5 219.4,431.0 219.4,432.5 219.5,434.0 219.5,435.5 219.6,437.0 219.7,438.4 219.7,439.9 219.7,441.4 219.8,442.9 219.8,444.4 219.9,445.9 219.9,447.4 219.9,448.9 220.0,450.4 220.0,451.9 220.0,453.4 220.1,454.9 220.1,456.4 220.1,457.9 220.1,459.4 220.2,460.9 220.2,462.4 220.2,463.9 220.3,465.4 220.3,466.9 220.3,468.4 220.4,469.9 220.4,471.4 220.4,472.9 220.5,474.4 220.5,475.9 220.6,477.4 220.6,478.9 220.6,480.4 220.7,481.9 220.7,483.4 220.8,484.9 220.8,486.4 220.8,487.9 220.9,489.4 220.9,490.9 221.0,492.4 221.0,493.9 221.0,495.4 221.1,496.9 221.1,498.4 221.1,499.9 221.2,501.4 221.2,502.9 221.3,504.4 221.3,505.9 221.3,507.4 221.4,508.9 221.4,510.4 221.5,511.9 221.5,513.4 221.5,514.9 221.6,516.4 221.6,517.9 221.6,519.4 221.7,520.9 221.7,522.4 221.8,523.9 221.8,525.4 221.9,526.9 221.9,528.4 221.9,529.9 222.0,531.4 222.0,532.9 222.1,534.4 222.1,535.9 222.2,537.4 222.2,538.9 222.3,540.4 222.3,541.9 222.4,543.4 222.4,544.9 222.5,546.4 222.5,547.9 222.6,549.4 222.6,550.9 222.7,552.4 222.7,553.9 222.8,555.4 222.9,556.9 222.9,558.4 223.0,559.9 223.1,561.4 223.1,562.9 223.2,564.4 223.3,565.9 223.4,567.4 223.4,568.9 223.5,570.4 223.6,571.9 223.7,573.4 223.8,574.9 223.9,576.4 223.9,577.9 224.0,579.4 224.1,580.9 224.2,582.4 224.3,583.9 224.4,585.4 224.5,586.9 224.6,588.4 224.7,589.9 224.8,591.4 224.9,592.8 225.0,594.3 225.1,595.8 225.2,597.3 225.4,598.8 225.5,600.3 225.6,601.8 225.7,603.3 225.8,604.8 225.9,606.3 226.0,607.8 226.2,609.3 226.3,610.8 226.4,612.3 226.5,613.8 226.6,615.3 226.7,616.8 226.9,618.3 227.0,619.8 227.1,621.3 227.2,622.8 227.3,624.3 227.5,625.7 227.6,627.2 227.7,628.7 227.9,630.2 228.0,631.7 228.2,633.2 228.3,634.7 228.4,636.2 228.6,637.7 228.7,639.2 228.9,640.7 229.0,642.2 229.2,643.7 229.4,645.1 229.5,646.6 229.7,648.1 229.8,649.6 230.0,651.1 230.2,652.6 230.3,654.1 230.5,655.6 230.7,657.1 230.8,658.6 231.0,660.1 231.2,661.6 231.3,663.0 231.5,664.5 231.7,666.0 231.8,667.5 232.0,669.0 232.2,670.5 232.3,672.0 232.5,673.5 232.7,675.0 232.8,676.5 233.0,678.0 233.2,679.4 233.4,680.9 233.6,682.4 233.7,683.9 233.9,685.4 234.1,686.9 234.3,688.4 234.5,689.9 234.7,691.4 235.0,692.9 235.2,694.3 235.4,695.8 235.7,697.3 235.9,698.8 236.2,700.2 236.5,701.7 236.8,703.2 237.1,704.7 237.5,706.4 237.8,707.8 238.2,709.1 238.6,710.5 239.0,711.9 239.5,713.0 239.9,714.2 240.4,716.1 240.9,718.1 241.4,719.3 241.9,720.1 242.4,721.3 243.0,722.9 243.6,724.0 244.2,724.6 244.8,726.1 245.4,727.5 246.1,728.6 246.7,730.3 247.4,731.7 248.1,730.6 248.9,730.8 249.7,734.2 250.5,733.3 251.3,733.3 252.1,738.5 252.9,742.9 253.6,745.9 254.2,745.6 254.8,744.6 255.3,746.7 255.8,748.6 256.3,750.1 256.7,751.8 257.0,753.2 257.4,754.4 257.7,755.8 258.1,757.5 258.4,759.1 258.8,760.5 259.1,761.7 259.4,763.0 259.8,764.4 260.1,765.9 260.5,767.3 260.9,768.7 261.2,770.3 261.7,771.7 262.1,773.1 262.6,774.7 263.2,775.4 263.9,776.1 264.9,782.3 266.3,781.7 267.4,777.4 268.3,777.2 269.1,776.6 269.8,773.6 270.7,770.6 271.5,768.9 272.5,766.7 273.8,768.9 275.3,775.2 276.6,777.6 277.7,775.6 278.8,769.3 279.8,766.2 280.7,771.2 281.6,775.5 282.5,775.9 283.4,775.8 284.3,776.5 285.2,778.6 286.2,779.5 287.2,781.5 288.2,783.1 289.3,779.7 290.5,777.3 291.8,781.0 293.1,785.7 294.4,788.2 295.8,791.5 297.1,793.9 298.5,794.0 299.9,794.3 301.4,796.3 302.8,792.2 304.2,788.4 305.7,795.4 307.1,797.7 308.5,790.8 310.0,784.6 311.4,784.6 312.9,789.2 314.3,789.0 315.7,786.7 317.1,786.0 318.5,789.2 320.0,794.8 321.4,795.1 322.8,796.0 324.1,799.3 325.5,800.1 326.9,801.0 328.3,801.7 329.7,803.9 331.1,805.1 332.5,801.2 333.9,806.2 335.3,810.8 336.7,806.8 338.1,811.6 339.5,814.1 340.9,810.1 342.4,809.2 343.8,806.8 345.2,805.1 346.6,803.3 348.1,799.2 349.5,798.1 351.0,798.0 352.4,798.8 353.9,803.5 355.3,808.7 356.8,811.6 358.3,810.5 359.8,807.7 361.3,812.1 362.7,815.6 364.2,806.9 365.7,807.5 367.2,819.4 368.7,820.2 370.2,815.4 371.7,815.9 373.2,813.5 374.7,807.1 376.2,808.6 377.7,814.4 379.2,816.9 380.7,816.9 382.2,813.4 383.7,809.2 385.2,809.7 386.6,812.9 388.1,814.0 389.6,816.7 391.1,821.1 392.6,817.9 394.0,813.2 395.5,814.0 397.0,809.6 398.5,810.5 399.9,820.2 401.4,819.0 402.9,812.9 404.3,814.6 405.8,822.2 407.2,827.7 408.7,824.6 410.2,815.9 411.6,811.7 413.1,816.2 414.6,821.6 416.0,818.6 417.5,813.8 419.0,817.1 420.5,819.1 422.0,818.1 423.4,823.6 424.9,828.6 426.4,824.7 427.9,818.4 429.4,817.8 430.9,819.1 432.3,820.5 433.8,822.9 435.3,822.0 436.8,821.0 438.3,820.9 439.8,817.6 441.3,816.3 442.8,820.2 444.3,824.0 445.8,826.9 447.3,826.8 448.7,827.0 450.2,829.1 451.7,824.9 453.2,823.0 454.7,830.0 456.2,831.1 457.7,822.6 459.2,815.2 460.7,817.7 462.2,823.7 463.7,822.5 465.1,820.4 466.6,820.4 468.0,817.5 469.4,818.3 470.8,822.8 472.1,823.2 473.5,821.9 474.9,821.9 476.2,822.4 477.6,819.0 479.0,813.2 480.4,815.6 481.8,820.5 483.3,821.1 484.7,820.1 486.1,813.0 487.6,807.6 489.0,809.6 490.4,809.5 491.9,807.3 493.3,804.1 494.8,803.8 496.2,809.5 497.7,810.1 499.2,804.5 500.7,804.5 502.1,810.2 503.6,813.0 505.1,813.5 506.6,814.1 508.1,813.4 509.6,808.6 511.1,805.1 512.5,810.1 514.0,812.0 515.4,807.0 516.9,810.3 518.3,814.6 519.7,813.4 521.2,814.2 522.6,809.4 524.1,804.8 525.5,807.5 527.0,812.1 528.4,812.0 529.9,805.7 531.4,804.3 532.9,806.3 534.3,808.1 535.8,811.3 537.3,812.4 538.8,813.2 540.2,816.3 541.7,818.1 543.2,816.0 544.7,817.4 546.2,821.5 547.7,821.3 549.1,820.7 550.6,822.4 552.1,822.7 553.6,821.6 555.1,822.2 556.6,825.3 558.1,824.5 559.6,820.9 561.1,822.1 562.5,824.4 564.0,822.6 565.5,817.1 567.0,814.6 568.5,819.7 570.0,822.3 571.5,820.5 573.0,822.0 574.5,822.2 576.0,820.8 577.5,819.9 579.0,817.8 580.5,818.5 582.0,823.3 583.5,825.5 585.0,822.5 586.5,818.5 588.0,815.6 589.5,818.1 591.0,824.0 592.5,824.1 594.0,819.8 595.5,817.7 597.0,816.3 598.5,816.9 600.0,819.8 601.5,822.6 603.0,821.3 604.4,811.7 605.9,806.8 607.4,811.2 608.9,815.9 610.4,815.5 611.9,807.6 613.3,803.0 614.8,806.9 616.3,811.4 617.8,816.3 619.2,815.2 620.7,810.1 622.2,813.5 623.6,817.4 625.1,812.1 626.6,802.7 628.0,800.3 629.5,805.2 631.0,810.8 632.4,814.6 633.9,815.9 635.3,814.3 636.8,809.3 638.3,808.0 639.7,811.6 641.2,809.5 642.7,806.4 644.1,809.6 645.6,811.8 647.1,812.4 648.6,816.0 650.0,812.0 651.5,802.8 653.0,801.4 654.5,804.5 655.9,804.9 657.4,804.4 658.9,805.8 660.4,806.7 661.8,804.9 663.3,800.3 664.8,801.1 666.3,808.6 667.8,810.1 669.2,807.8 670.7,808.9 672.2,809.6 673.6,808.9 675.1,807.5 676.6,803.4 678.0,802.5 679.5,805.9 681.0,808.5 682.4,807.3 683.8,803.5 685.3,801.9 686.7,798.0 688.1,796.8 689.6,801.5 691.0,799.8 692.4,794.2 693.8,795.1 695.1,798.7 696.5,798.3 697.9,797.7 699.3,798.4 700.6,793.3 702.0,789.6 703.3,792.8 704.7,792.2 706.1,785.6 707.4,775.9 708.8,774.2 710.1,783.0 711.5,787.2 712.8,787.5 714.2,789.7 715.5,792.5 716.8,794.2 718.1,789.9 719.5,781.3 720.8,779.1 722.1,784.7 723.4,790.1 724.8,788.0 726.1,779.8 727.5,776.6 728.8,779.5 730.2,781.5 731.5,783.5 732.9,784.0 734.3,779.5 735.7,772.8 737.2,770.4 738.6,774.1 740.0,777.2 741.5,777.7 742.9,777.3 744.4,777.3 745.9,779.3 747.3,777.9 748.8,773.1 750.2,771.1 751.7,772.5 753.1,776.8 754.5,779.4 755.9,777.2 757.3,770.8 758.7,766.6 760.1,769.9 761.4,769.0 762.7,760.4 764.0,755.6 765.3,761.9 766.5,771.3 767.8,772.3 769.0,768.0 770.2,764.9 771.5,766.4 772.7,767.7 773.9,764.2 775.1,759.4 776.3,758.4 777.6,765.7 778.8,768.6 780.1,762.3 781.4,765.1 782.7,767.7 784.0,763.1 785.3,761.4 786.7,760.5 788.2,757.6 789.6,750.8 791.1,752.1 792.6,765.1 794.1,764.5 795.6,755.8 797.0,756.3 798.5,756.4 799.9,753.0 801.1,747.8 802.3,748.7 803.3,752.7 804.3,748.7 805.3,745.7 806.2,748.6 807.3,748.1 808.4,743.4 809.6,743.3 810.9,742.8 812.2,737.7 813.6,737.2 815.0,740.0 816.4,742.5 817.8,740.9 819.3,735.6 820.7,736.5 822.1,735.7 823.6,731.9 825.0,731.6 826.5,730.8 827.9,734.8 829.4,738.4 830.8,736.5 832.3,737.0 833.7,736.3 835.2,732.5 836.6,732.0 838.1,733.7 839.5,732.8 840.9,729.8 842.3,730.7 843.7,731.0 845.1,725.4 846.5,723.8 847.9,728.9 849.3,726.7 850.7,720.7 852.0,726.3 853.4,733.8 854.7,731.3 856.1,726.6 857.5,722.8 858.8,720.3 860.2,723.9 861.5,727.4 862.8,726.6 864.2,724.9 865.5,723.6 866.8,723.3 868.2,725.1 869.5,720.9 870.8,711.0 872.1,710.7 873.4,719.0 874.8,724.4 876.1,722.2 877.4,716.7 878.7,714.4 880.0,712.6 881.3,710.6 882.7,713.9 884.0,716.6 885.3,716.8 886.6,715.8 888.0,709.7 889.3,708.4 890.6,712.5 891.9,712.4 893.2,706.6 894.5,700.7 895.8,704.5 897.1,710.7 898.4,709.7 899.7,706.7 900.9,704.3 902.2,701.6 903.4,699.2 904.7,700.4 905.9,704.3 907.1,703.9 908.3,701.0 909.5,698.7 910.7,693.9 911.8,690.5 913.0,691.2 914.1,690.4 915.2,689.7 916.3,693.1 917.4,692.9 918.4,687.2 919.5,688.2 920.5,689.4 921.6,684.5 922.6,683.2 923.6,684.1 924.6,687.1 925.7,688.4 926.7,685.4 927.7,684.3 928.7,685.7 929.7,680.2 930.8,668.5 931.8,668.2 932.8,674.3 933.9,677.7 934.9,681.1 935.9,678.0 937.0,668.6 938.1,665.3 939.2,669.4 940.2,668.5 941.4,665.8 942.5,669.3 943.6,671.0 944.8,668.4 946.0,662.8 947.1,657.0 948.3,662.5 949.5,669.8 950.7,664.2 951.9,653.7 953.2,650.3 954.4,651.7 955.6,649.6 956.8,645.4 958.1,641.9 959.3,644.2 960.6,647.9 961.8,644.7 963.1,640.1 964.4,639.4 965.6,642.7 966.9,645.3 968.2,639.0 969.4,632.0 970.7,634.5 972.0,637.0 973.2,635.9 974.5,637.4 975.7,644.7 977.0,649.4 978.3,648.3 979.5,646.4 980.8,641.0 982.1,632.6 983.4,627.2 984.7,629.0 986.0,635.6 987.3,638.3 988.6,634.1 989.9,633.7 991.2,635.9 992.5,633.8 993.8,633.3 995.1,632.4 996.4,627.5 997.7,626.3 999.0,629.8 1000.3,633.7 1001.5,632.8 1002.8,629.1 1004.0,622.5 1005.3,616.1 1006.5,617.4 1007.7,616.5 1008.9,614.9 1010.1,618.5 1011.3,617.6 1012.4,612.2 1013.6,610.7 1014.7,616.9 1015.8,621.4 1016.9,619.6 1018.0,619.2 1019.1,618.2 1020.2,613.2 1021.3,608.4 1022.4,606.2 1023.5,605.0 1024.6,604.4 1025.7,603.9 1026.8,604.6 1027.8,604.6 1028.9,603.7 1030.0,604.3 1031.1,600.4 1032.2,597.8 1033.3,598.4 1034.5,592.5 1035.6,589.8 1036.7,597.6 1037.9,597.6 1039.1,590.0 1040.2,589.9 1041.4,590.0 1042.7,591.5 1043.9,592.3 1045.1,585.5 1046.3,585.6 1047.6,591.1 1048.9,590.3 1050.1,586.6 1051.4,582.0 1052.7,578.7 1054.0,579.7 1055.2,581.3 1056.5,581.3 1057.8,586.3 1059.1,586.8 1060.4,577.2 1061.7,574.9 1063.0,574.5 1064.3,571.6 1065.6,571.6 1066.9,568.2 1068.2,566.2 1069.5,572.6 1070.8,576.9 1072.1,573.7 1073.4,570.1 1074.6,566.6 1075.9,562.4 1077.1,561.8 1078.4,566.1 1079.6,566.0 1080.9,557.9 1082.1,556.9 1083.3,562.4 1084.5,559.9 1085.7,557.4 1086.9,561.2 1088.2,560.6 1089.4,557.8 1090.6,556.5 1091.8,560.1 1093.0,561.5 1094.2,551.6 1095.4,549.4 1096.6,554.9 1097.8,552.4 1099.0,546.8 1100.2,546.5 1101.5,550.6 1102.7,555.9 1103.9,558.7 1105.2,555.7 1106.4,551.8 1107.7,551.2 1109.0,548.1 1110.3,542.7 1111.7,542.1 1113.1,544.5 1114.5,542.8 1116.0,537.8 1117.4,534.3 1118.9,537.7 1120.3,543.3 1121.8,542.2 1123.2,543.0 1124.7,549.0 1126.1,550.5 1127.5,547.2 1128.8,542.4 1130.1,538.7 1131.4,538.5 1132.6,539.9 1133.7,538.2 1134.8,535.6 1135.9,537.1 1136.9,537.5 1137.9,531.2 1138.9,522.2 1139.9,520.6 1141.0,522.9 1142.0,521.0 1143.0,526.8 1144.1,533.1 1145.2,524.4 1146.3,517.8 1147.4,520.3 1148.5,519.2 1149.6,514.4 1150.6,510.2 1151.8,513.5 1152.9,518.8 1154.2,514.8 1155.4,510.6 1156.8,511.9 1158.2,514.9 1159.6,517.1 1161.0,517.6 1162.5,513.7 1164.0,507.4 1165.4,503.7 1166.9,505.8 1168.4,511.8 1169.9,510.7 1171.4,511.8 1172.9,518.7 1174.4,517.4 1175.9,511.7 1177.4,509.8 1178.9,512.1 1180.4,521.0 1181.9,523.5 1183.4,516.7 1184.8,518.8 1186.3,520.1 1187.8,514.6 1189.3,513.9 1190.7,512.9 1192.2,508.9 1193.6,510.7 1195.1,516.2 1196.5,514.2 1197.9,507.5 1199.4,504.8 1200.8,506.2 1202.2,508.7 1203.6,512.3 1205.0,512.6 1206.4,505.6 1207.8,500.8 1209.3,502.6 1210.7,502.1 1212.1,500.9 1213.6,502.3 1215.0,502.1 1216.5,501.3 1218.0,501.4 1219.5,502.4 1221.0,500.6 1222.5,498.3 1224.0,500.7 1225.5,497.7 1227.0,492.4 1228.5,497.4 1229.9,506.5 1231.4,506.8 1232.9,501.7 1234.4,498.9 1235.9,498.6 1237.3,497.6 1238.8,492.3 1240.3,493.6 1241.8,503.1 1243.3,505.7 1244.8,504.1 1246.3,508.5 1247.8,511.7 1249.3,508.8 1250.7,505.7 1252.2,500.7 1253.6,501.6 1255.0,508.6 1256.4,506.2 1257.8,497.4 1259.1,495.3 1260.5,501.5 1261.8,506.7 1263.1,505.0 1264.4,501.0 1265.7,499.5 1267.1,495.7 1268.4,491.5 1269.7,491.3 1271.0,489.9 1272.4,487.8 1273.8,490.7 1275.1,494.9 1276.5,492.8 1278.0,489.0 1279.4,489.2 1280.9,490.0 1282.4,490.3 1283.9,489.5 1285.4,490.5 1286.9,492.1 1288.3,487.8 1289.8,483.8 1291.2,484.2 1292.6,486.6 1294.0,489.9 1295.4,489.8 1296.9,488.6 1298.4,488.7 1299.8,490.6 1301.3,494.9 1302.8,497.3 1304.3,501.4 1305.8,501.2 1307.3,498.0 1308.8,501.4 1310.2,495.9 1311.7,488.3 1313.2,493.1 1314.7,500.1 1316.2,498.6 1317.7,485.1 1319.2,478.8 1320.6,486.3 1321.8,488.8 1323.0,487.5 1324.0,492.2 1324.9,495.2 1325.8,492.5 1326.6,489.3 1327.0,484.2" stroke="#FF0080" fill="none" stroke-width="3.0" stroke-linejoin="round"/><path id="c_magenta" d="M103.0,515.0 103.0,516.5 103.0,518.0 103.0,519.5 103.0,520.9 103.0,522.4 103.1,523.9 103.3,525.4 103.4,526.9 103.6,528.4 103.8,529.9 104.0,531.4 104.2,532.9 104.3,534.4 104.5,535.8 104.7,537.3 104.9,538.8 105.1,540.3 105.3,541.8 105.4,543.3 105.6,544.8 105.8,546.3 106.0,547.8 106.2,549.2 106.4,550.7 106.6,552.2 106.8,553.7 107.0,555.2 107.3,556.7 107.5,558.2 107.7,559.6 107.9,561.1 108.2,562.6 108.4,564.1 108.7,565.6 108.9,567.0 109.2,568.5 109.4,570.0 109.7,571.4 110.0,572.9 110.2,574.5 110.5,575.9 110.8,577.4 111.1,578.8 111.3,580.3 111.6,581.7 111.9,583.2 112.2,584.7 112.5,586.2 112.8,587.6 113.1,589.1 113.4,590.6 113.8,592.1 114.1,593.6 114.4,595.1 114.7,596.5 115.1,598.0 115.4,599.4 115.7,600.9 116.1,602.3 116.4,603.8 116.8,605.3 117.1,606.7 117.5,608.1 117.8,609.6 118.2,611.1 118.6,612.4 119.0,613.9 119.3,615.4 119.7,616.8 120.1,618.2 120.5,619.7 120.9,621.2 121.3,622.6 121.7,624.1 122.1,625.6 122.5,627.0 122.9,628.4 123.3,629.8 123.7,631.2 124.1,632.8 124.5,634.4 124.9,635.9 125.3,637.3 125.7,638.6 126.1,640.0 126.5,641.6 127.0,642.9 127.4,644.2 127.8,645.7 128.2,647.2 128.6,648.8 129.0,650.2 129.4,651.6 129.8,653.1 130.2,654.6 130.6,656.0 131.0,657.4 131.5,658.7 131.9,660.0 132.4,661.5 132.9,662.8 133.4,664.2 133.9,665.7 134.6,666.7 135.3,669.3 136.5,672.7 137.8,672.1 138.8,669.4 139.7,666.8 140.5,664.1 141.3,661.9 141.9,661.6 142.5,661.3 143.0,660.6 143.6,659.0 144.1,656.8 144.6,655.1 145.2,654.0 145.8,653.5 146.5,652.5 147.6,650.4 148.3,652.5 148.7,653.9 148.9,655.4 149.2,656.9 149.4,658.3 149.6,659.8 149.8,661.3 150.0,662.8 150.3,664.2 150.6,665.5 151.1,666.6 152.0,669.8 153.5,669.3 154.8,666.3 156.0,666.5 157.1,666.0 158.0,664.9 158.9,663.3 159.7,661.3 160.4,660.1 161.0,659.3 161.6,658.3 162.1,656.7 162.6,655.1 163.0,653.8 163.5,652.4 163.9,650.9 164.3,649.5 164.8,648.0 165.2,646.5 165.7,645.0 166.3,644.1 166.9,643.7 167.8,642.4 169.1,642.6 170.3,643.0 171.1,638.1 171.5,636.7 171.9,635.5 172.2,634.0 172.4,632.6 172.6,631.1 172.8,629.6 173.0,628.1 173.1,626.6 173.3,625.1 173.4,623.7 173.5,622.2 173.7,620.7 173.8,619.2 173.9,617.7 174.0,616.2 174.2,614.7 174.3,613.2 174.4,611.7 174.5,610.2 174.7,608.7 174.8,607.2 174.9,605.7 175.0,604.2 175.2,602.7 175.3,601.2 175.4,599.7 175.6,598.2 175.7,596.7 175.9,595.3 176.0,593.8 176.2,592.3 176.4,590.8 176.5,589.3 176.7,587.8 176.9,586.3 177.0,584.8 177.2,583.3 177.4,581.9 177.6,580.4 177.8,578.9 177.9,577.4 178.1,575.9 178.3,574.4 178.5,572.9 178.7,571.4 178.8,569.9 179.0,568.5 179.2,567.0 179.4,565.5 179.6,564.0 179.8,562.5 179.9,561.0 180.1,559.5 180.3,558.0 180.5,556.5 180.7,555.0 180.8,553.6 181.0,552.1 181.2,550.6 181.4,549.1 181.5,547.6 181.7,546.1 181.9,544.6 182.1,543.1 182.2,541.6 182.4,540.1 182.6,538.7 182.7,537.2 182.9,535.7 183.0,534.2 183.2,532.7 183.4,531.2 183.5,529.7 183.7,528.2 183.8,526.7 184.0,525.2 184.1,523.7 184.3,522.2 184.4,520.8 184.6,519.3 184.7,517.8 184.9,516.3 185.0,514.8 185.2,513.3 185.3,511.8 185.4,510.3 185.6,508.8 185.7,507.3 185.8,505.8 186.0,504.3 186.1,502.8 186.3,501.3 186.4,499.8 186.5,498.3 186.7,496.9 186.8,495.4 187.0,493.9 187.1,492.4 187.3,490.9 187.4,489.4 187.6,487.9 187.8,486.4 187.9,484.9 188.1,483.4 188.3,481.9 188.4,480.5 188.6,479.0 188.8,477.5 188.9,476.0 189.1,474.5 189.3,473.0 189.4,471.5 189.6,470.0 189.7,468.5 189.9,467.0 190.0,465.5 190.1,464.0 190.2,462.5 190.3,461.0 190.5,459.6 190.6,458.1 190.7,456.6 190.8,455.1 190.9,453.6 190.9,452.1 191.0,450.6 191.1,449.1 191.2,447.6 191.3,446.1 191.4,444.6 191.5,443.1 191.6,441.6 191.7,440.1 191.8,438.6 191.9,437.1 192.1,435.6 192.2,434.1 192.3,432.6 192.5,431.1 192.6,429.6 192.8,428.1 192.9,426.6 193.1,425.2 193.2,423.7 193.4,422.2 193.6,420.7 193.7,419.2 193.9,417.7 194.1,416.2 194.3,414.7 194.5,413.2 194.7,411.8 194.9,410.3 195.2,408.8 195.5,407.6 196.0,415.1 196.8,412.8 197.2,408.4 197.5,409.6 197.7,411.1 198.0,412.5 198.2,414.0 198.4,415.5 198.6,417.0 198.8,418.5 199.0,420.0 199.2,421.5 199.4,423.0 199.6,424.5 199.7,425.9 199.9,427.4 200.0,428.9 200.2,430.4 200.3,431.9 200.5,433.4 200.6,434.9 200.8,436.4 200.9,437.9 201.0,439.4 201.2,440.9 201.3,442.4 201.4,443.9 201.6,445.4 201.7,446.9 201.8,448.3 202.0,449.8 202.1,451.3 202.3,452.8 202.4,454.3 202.5,455.8 202.7,457.3 202.8,458.8 202.9,460.3 203.0,461.8 203.2,463.3 203.3,464.8 203.4,466.3 203.6,467.8 203.7,469.3 203.8,470.8 203.9,472.3 204.1,473.8 204.2,475.2 204.3,476.7 204.5,478.2 204.6,479.7 204.7,481.2 204.9,482.7 205.0,484.2 205.1,485.7 205.3,487.2 205.4,488.7 205.5,490.2 205.7,491.7 205.8,493.2 206.0,494.7 206.1,496.2 206.3,497.7 206.4,499.1 206.6,500.6 206.7,502.1 206.9,503.6 207.1,505.1 207.2,506.6 207.4,508.1 207.6,509.6 207.7,511.1 207.9,512.6 208.1,514.1 208.2,515.5 208.4,517.0 208.6,518.5 208.8,520.0 209.0,521.5 209.1,523.0 209.3,524.5 209.5,526.0 209.7,527.5 209.9,529.0 210.1,530.4 210.2,531.9 210.4,533.4 210.6,534.9 210.8,536.4 211.0,537.9 211.2,539.4 211.4,540.9 211.5,542.4 211.7,543.8 211.9,545.3 212.1,546.8 212.3,548.3 212.5,549.8 212.7,551.2 213.0,552.7 213.2,554.2 213.4,555.7 213.6,557.2 213.8,558.7 214.0,560.2 214.2,561.7 214.5,563.1 214.7,564.6 214.9,566.1 215.1,567.6 215.4,569.0 215.6,570.5 215.8,572.0 216.0,573.6 216.3,575.0 216.5,576.5 216.7,577.9 217.0,579.4 217.2,580.9 217.4,582.4 217.7,583.9 217.9,585.4 218.1,586.9 218.3,588.4 218.6,589.8 218.8,591.3 219.0,592.8 219.3,594.3 219.5,595.8 219.7,597.3 220.0,598.7 220.2,600.2 220.4,601.6 220.6,603.1 220.9,604.6 221.1,606.1 221.3,607.6 221.6,609.1 221.8,610.6 222.0,612.1 222.2,613.5 222.4,615.0 222.7,616.5 222.9,618.0 223.1,619.5 223.3,621.0 223.5,622.5 223.7,624.0 223.8,625.5 224.0,626.9 224.2,628.4 224.4,629.9 224.6,631.4 224.8,632.8 225.1,634.3 225.3,635.8 225.5,637.3 225.8,638.7 226.0,640.3 226.3,641.8 226.6,643.2 226.9,644.6 227.1,646.1 227.4,647.7 227.7,649.2 228.0,650.7 228.3,652.2 228.6,653.6 228.9,655.0 229.2,656.5 229.5,658.0 229.8,659.5 230.2,660.9 230.5,662.1 230.8,663.6 231.1,665.2 231.4,666.8 231.7,668.3 231.9,669.8 232.2,671.3 232.5,672.7 232.8,674.1 233.1,675.5 233.3,677.1 233.6,678.6 233.8,680.0 234.0,681.5 234.3,683.0 234.4,684.5 234.6,685.9 234.8,687.4 235.0,688.9 235.1,690.4 235.3,691.9 235.4,693.4 235.6,694.9 235.8,696.4 235.9,697.9 236.1,699.4 236.3,700.9 236.5,702.3 236.8,703.8 237.1,705.2 237.4,706.7 237.7,708.3 238.0,709.8 238.3,711.0 238.7,712.2 239.1,713.8 239.5,715.7 239.9,717.4 240.4,718.6 240.9,719.3 241.4,720.3 242.0,721.5 242.6,725.2 243.2,728.6 243.9,724.7 244.7,720.0 245.5,721.0 246.4,725.3 247.3,728.6 248.2,726.0 249.2,724.0 250.1,729.7 251.1,736.7 252.0,739.8 253.0,736.3 254.0,733.4 255.0,737.6 256.0,737.1 257.1,734.8 258.2,739.3 259.3,744.2 260.5,744.5 261.8,742.3 263.1,743.3 264.5,747.0 265.9,749.7 267.3,747.6 268.7,745.8 270.1,746.9 271.5,745.7 272.8,747.3 274.2,744.2 275.6,737.2 277.0,741.2 278.3,748.9 279.7,751.3 281.0,751.9 282.3,752.9 283.5,752.5 284.6,753.9 285.6,763.6 286.6,769.3 287.6,761.4 288.7,756.8 289.9,758.6 291.2,759.2 292.5,762.0 293.9,765.9 295.4,766.4 296.9,761.5 298.4,758.8 299.8,759.9 301.3,761.2 302.8,758.7 304.3,755.4 305.8,756.3 307.2,759.5 308.7,761.1 310.2,762.0 311.6,764.9 313.1,765.3 314.6,764.2 316.0,765.4 317.5,770.8 319.0,774.0 320.4,770.1 321.9,769.9 323.4,773.7 324.8,773.8 326.3,767.5 327.8,764.8 329.2,772.4 330.7,778.1 332.2,777.9 333.7,773.4 335.1,770.6 336.6,773.1 338.1,772.6 339.6,775.3 341.1,781.3 342.5,777.4 344.0,770.1 345.5,772.4 347.0,778.5 348.5,777.4 350.0,770.5 351.5,765.0 353.0,765.9 354.5,770.3 356.0,776.0 357.4,781.4 358.9,778.1 360.4,769.9 361.9,768.9 363.4,770.4 364.9,773.1 366.4,777.3 367.9,775.5 369.4,775.6 370.9,779.5 372.4,775.5 373.9,771.0 375.3,777.1 376.8,785.2 378.3,783.1 379.8,777.8 381.3,776.6 382.7,777.6 384.2,781.8 385.6,778.6 387.1,772.6 388.6,779.5 390.0,783.6 391.5,778.9 392.9,779.0 394.4,782.2 395.8,781.6 397.3,780.8 398.8,784.2 400.2,787.8 401.7,791.2 403.2,790.5 404.6,784.1 406.1,780.3 407.6,785.0 409.1,793.3 410.6,794.7 412.1,791.9 413.6,789.8 415.1,786.4 416.6,783.4 418.1,782.9 419.5,781.7 421.0,781.0 422.4,786.6 423.8,787.1 425.2,779.4 426.6,779.3 428.0,779.0 429.4,775.9 430.8,782.8 432.3,785.9 433.7,778.8 435.2,775.6 436.7,778.1 438.2,783.5 439.7,785.1 441.2,781.7 442.7,781.6 444.2,785.0 445.7,783.3 447.2,774.4 448.7,770.8 450.2,776.9 451.7,781.6 453.2,783.4 454.7,785.6 456.1,782.1 457.6,778.9 459.1,777.7 460.5,773.2 461.9,771.9 463.3,773.5 464.6,777.1 465.9,783.0 467.1,782.5 468.4,776.4 469.6,774.4 470.9,777.8 472.1,777.2 473.4,768.8 474.6,764.2 476.0,766.7 477.3,766.4 478.6,764.5 480.1,767.0 481.5,769.0 483.0,766.4 484.5,763.8 486.0,762.3 487.5,760.6 488.9,762.9 490.3,768.1 491.7,768.7 493.1,766.5 494.5,768.0 495.8,772.0 497.1,773.9 498.5,773.3 499.9,774.0 501.2,773.9 502.6,769.1 504.0,771.4 505.5,781.4 506.9,784.6 508.3,780.9 509.8,775.9 511.2,778.3 512.7,785.8 514.1,786.8 515.6,784.1 517.0,783.1 518.5,779.2 519.9,772.9 521.4,769.6 522.9,769.9 524.3,776.1 525.8,781.8 527.3,784.3 528.7,788.9 530.2,789.7 531.7,784.1 533.2,778.6 534.6,780.0 536.1,782.0 537.6,780.9 539.1,784.8 540.5,787.9 542.0,782.6 543.5,777.7 545.0,778.1 546.5,781.3 547.9,785.4 549.4,783.5 550.9,781.7 552.4,783.6 553.9,785.7 555.4,789.2 556.9,792.9 558.4,791.4 559.9,784.3 561.3,784.0 562.8,786.8 564.3,783.2 565.8,778.0 567.3,779.0 568.8,783.0 570.3,779.7 571.8,774.4 573.3,777.2 574.8,784.4 576.3,787.1 577.8,786.7 579.3,787.1 580.8,786.4 582.3,782.8 583.8,778.0 585.3,779.7 586.8,785.0 588.3,785.8 589.8,786.1 591.2,781.0 592.7,773.9 594.2,778.5 595.7,783.0 597.2,781.0 598.7,777.6 600.1,775.8 601.6,779.7 603.1,782.5 604.6,782.6 606.1,785.7 607.6,787.3 609.1,782.7 610.6,778.9 612.0,781.8 613.5,786.3 615.0,784.7 616.5,780.3 618.0,779.3 619.4,777.7 620.9,772.9 622.4,773.3 623.9,778.3 625.3,778.5 626.8,775.3 628.3,774.2 629.8,776.7 631.3,779.2 632.8,776.9 634.2,774.5 635.7,772.0 637.2,766.0 638.7,763.1 640.2,772.9 641.7,782.2 643.2,778.7 644.7,776.4 646.2,779.7 647.7,780.1 649.2,773.5 650.7,765.6 652.2,768.1 653.7,779.1 655.2,778.1 656.6,770.7 658.1,772.8 659.6,775.3 661.1,775.1 662.6,776.0 664.0,781.0 665.5,785.4 667.0,783.0 668.5,780.7 670.0,779.6 671.5,777.4 673.0,778.7 674.5,784.6 676.0,787.7 677.5,784.8 679.0,782.3 680.5,784.0 682.0,784.8 683.5,780.9 685.0,779.0 686.5,779.2 688.0,778.1 689.5,778.7 691.0,776.5 692.5,774.8 694.0,776.1 695.5,776.1 697.0,778.0 698.5,779.2 700.0,778.6 701.4,781.1 702.9,783.0 704.3,779.4 705.6,777.0 706.8,778.7 708.0,776.4 709.1,771.9 710.3,771.1 711.5,773.9 712.9,776.3 714.3,772.2 715.7,770.3 717.2,768.8 718.7,761.5 720.2,760.7 721.7,766.8 723.2,768.2 724.7,767.0 726.2,771.0 727.7,775.4 729.2,778.5 730.7,780.9 732.2,777.9 733.7,775.6 735.2,779.1 736.7,778.2 738.2,771.4 739.7,769.0 741.2,772.2 742.7,775.9 744.2,777.1 745.7,775.7 747.2,776.5 748.7,776.8 750.1,774.5 751.6,770.5 753.1,764.1 754.6,763.5 756.0,767.1 757.5,767.8 759.0,768.3 760.4,767.0 761.9,766.7 763.3,771.7 764.7,773.9 766.2,768.6 767.6,760.4 769.0,756.7 770.4,756.1 771.8,758.6 773.1,763.7 774.4,766.9 775.7,765.6 776.9,762.5 778.1,761.3 779.3,759.6 780.4,761.2 781.6,760.7 782.7,754.4 783.8,753.7 785.0,757.3 786.2,755.1 787.4,747.0 788.7,741.8 790.1,744.8 791.6,751.8 793.1,754.5 794.5,754.1 796.0,755.2 797.5,755.3 799.0,755.5 800.5,752.5 802.0,743.2 803.5,739.7 805.0,744.4 806.5,746.0 808.0,747.4 809.4,757.1 810.9,763.7 812.4,757.2 813.9,749.0 815.4,750.4 816.8,755.2 818.3,755.7 819.8,752.4 821.3,747.3 822.8,745.7 824.3,752.0 825.7,755.6 827.2,746.3 828.7,737.3 830.2,737.2 831.6,740.4 833.1,743.7 834.6,745.7 836.0,747.6 837.5,748.3 838.9,748.8 840.4,746.9 841.8,743.8 843.3,744.8 844.7,741.8 846.1,739.8 847.5,744.6 848.9,747.2 850.3,748.3 851.6,746.4 853.0,742.3 854.3,738.9 855.7,734.9 857.0,734.6 858.4,733.7 859.7,728.8 861.0,728.3 862.3,730.1 863.6,727.7 865.0,731.9 866.3,742.2 867.6,743.9 868.9,737.7 870.3,735.8 871.6,737.8 872.9,735.0 874.3,733.2 875.6,731.6 877.0,723.8 878.4,716.6 879.7,714.2 881.1,714.8 882.5,717.1 883.9,721.7 885.3,724.8 886.6,721.6 888.0,720.0 889.4,720.8 890.8,720.8 892.2,724.1 893.6,726.8 895.0,726.6 896.4,723.6 897.8,720.6 899.2,720.4 900.6,720.5 902.0,719.7 903.4,719.3 904.8,717.4 906.2,715.8 907.6,716.7 909.0,718.5 910.4,719.0 911.8,713.7 913.2,714.5 914.6,721.5 916.0,717.2 917.4,710.9 918.8,712.0 920.3,709.3 921.7,708.3 923.1,713.9 924.5,717.3 926.0,717.6 927.4,713.3 928.8,711.9 930.2,712.4 931.6,708.1 933.0,702.9 934.4,701.6 935.7,709.0 937.1,714.7 938.4,711.7 939.8,704.0 941.1,701.5 942.4,704.5 943.7,701.9 944.9,702.3 946.2,707.5 947.4,707.0 948.6,707.7 949.8,708.2 950.9,703.3 952.1,698.5 953.2,693.7 954.4,692.1 955.5,693.1 956.6,692.6 957.8,688.2 958.9,681.7 960.0,682.6 961.1,684.4 962.2,683.0 963.4,687.6 964.5,686.8 965.6,676.0 966.8,676.2 967.9,686.0 969.1,685.0 970.3,676.7 971.5,673.6 972.7,675.2 973.9,674.6 975.2,674.5 976.5,676.9 977.8,673.3 979.1,671.0 980.5,675.7 981.9,677.8 983.3,675.8 984.7,677.1 986.1,679.4 987.5,675.5 989.0,673.7 990.4,676.4 991.9,675.3 993.3,670.7 994.7,669.2 996.2,672.0 997.6,673.7 999.0,671.1 1000.4,663.9 1001.8,657.5 1003.2,662.8 1004.5,670.9 1005.8,666.0 1007.1,659.8 1008.4,658.0 1009.6,655.1 1010.9,657.3 1012.1,664.0 1013.2,663.7 1014.4,657.5 1015.5,655.4 1016.6,656.2 1017.7,655.6 1018.8,653.0 1019.9,650.2 1021.0,648.1 1022.0,645.3 1023.1,644.4 1024.1,647.7 1025.2,646.5 1026.3,642.3 1027.3,642.5 1028.4,643.1 1029.5,644.7 1030.5,640.3 1031.6,629.7 1032.7,629.3 1033.8,636.7 1034.9,639.7 1036.0,636.7 1037.2,634.0 1038.3,630.7 1039.5,628.3 1040.7,633.6 1042.0,635.4 1043.2,632.8 1044.5,631.2 1045.8,628.3 1047.2,630.7 1048.5,632.4 1049.8,630.4 1051.2,629.2 1052.6,630.5 1054.0,628.8 1055.3,621.1 1056.7,622.1 1058.1,628.8 1059.5,632.7 1060.9,632.7 1062.3,626.0 1063.7,621.4 1065.0,621.4 1066.4,621.2 1067.7,620.3 1069.1,616.1 1070.4,615.2 1071.6,618.9 1072.9,618.2 1074.0,619.7 1075.2,620.1 1076.2,617.2 1077.2,614.4 1078.1,608.7 1079.0,606.8 1079.8,609.7 1080.6,609.5 1081.4,605.3 1082.1,603.5 1082.9,605.3 1083.6,604.3 1084.3,602.0 1085.1,604.5 1085.9,607.3 1086.8,605.7 1087.7,605.4 1088.7,603.4 1090.0,598.3 1091.4,596.6 1092.9,596.2 1094.3,597.4 1095.7,598.2 1097.0,595.0 1098.3,591.6 1099.5,589.8 1100.8,589.2 1102.1,591.1 1103.5,596.8 1105.0,602.9 1106.5,603.7 1107.8,599.2 1109.1,593.4 1110.3,591.7 1111.4,595.4 1112.4,595.5 1113.4,589.3 1114.4,588.5 1115.4,591.8 1116.4,592.8 1117.4,593.9 1118.4,591.0 1119.5,584.9 1120.6,581.8 1121.7,581.0 1122.8,582.8 1123.8,584.3 1124.9,580.8 1126.0,579.6 1127.0,582.3 1128.1,584.0 1129.3,585.2 1130.4,581.2 1131.6,577.4 1132.8,578.5 1134.1,577.8 1135.5,577.7 1136.9,580.6 1138.3,584.0 1139.7,583.0 1141.2,577.9 1142.7,573.7 1144.1,569.6 1145.6,569.0 1147.1,572.3 1148.6,571.3 1150.1,568.5 1151.6,569.5 1153.1,571.7 1154.6,571.1 1156.0,569.2 1157.5,570.8 1159.0,568.9 1160.4,564.9 1161.8,564.9 1163.2,562.0 1164.6,556.3 1165.9,557.8 1167.2,563.8 1168.5,565.5 1169.8,568.1 1171.2,568.9 1172.5,562.8 1173.8,556.6 1175.2,555.3 1176.6,557.6 1178.1,555.6 1179.6,554.2 1181.1,560.4 1182.6,565.8 1184.0,562.4 1185.4,561.7 1186.8,571.0 1188.2,573.6 1189.5,571.0 1190.9,570.3 1192.3,568.0 1193.7,569.1 1195.1,570.7 1196.6,570.7 1198.1,570.1 1199.6,566.2 1201.0,564.8 1202.3,562.3 1203.5,556.3 1204.7,553.2 1205.8,556.6 1206.9,562.4 1207.9,558.9 1209.0,551.7 1210.0,550.1 1211.0,552.9 1212.1,554.4 1213.2,552.7 1214.3,553.5 1215.4,552.8 1216.6,550.3 1217.9,544.8 1219.3,542.8 1220.7,551.1 1222.2,555.2 1223.7,554.0 1225.2,555.3 1226.6,553.8 1228.1,547.8 1229.5,547.6 1230.9,549.9 1232.3,547.4 1233.7,545.7 1235.2,549.0 1236.6,553.0 1238.1,554.1 1239.6,557.3 1241.1,559.3 1242.6,556.8 1244.0,555.8 1245.5,554.3 1246.9,552.2 1248.3,551.5 1249.7,550.5 1251.1,552.8 1252.5,553.1 1254.0,551.5 1255.4,553.3 1256.9,552.5 1258.4,550.2 1259.9,546.3 1261.4,544.0 1262.9,547.7 1264.3,550.4 1265.8,551.9 1267.2,553.7 1268.6,553.4 1270.0,549.5 1271.4,548.9 1272.8,552.6 1274.2,552.0 1275.6,551.4 1277.0,552.8 1278.4,550.8 1279.9,551.4 1281.3,555.7 1282.7,557.2 1284.2,557.8 1285.7,557.1 1287.2,555.6 1288.7,557.3 1290.1,558.2 1291.3,556.4 1292.3,551.9 1293.1,551.2 1293.7,551.4 1294.2,550.0 1294.7,548.9 1295.1,547.9 1295.5,546.6 1295.9,544.7 1296.4,543.1 1297.0,542.6 1297.9,539.8 1299.1,537.7 1300.6,538.4 1302.0,536.0 1303.5,534.3 1305.0,536.8 1306.5,537.8 1307.9,536.3 1309.4,537.0 1310.8,537.9 1312.2,535.0 1313.6,533.6 1314.9,538.0 1316.3,542.2 1317.7,544.4 1319.1,546.0 1320.4,546.2 1321.8,547.7 1323.0,547.9 1324.2,549.4 1325.3,551.8 1326.4,549.3 1327.0,548.7" stroke="#FF00FF" fill="none" stroke-width="3.0" stroke-linejoin="round"/><path id="c_blue" d="M103.0,565.0 103.0,566.5 103.0,568.0 103.0,569.5 103.0,571.0 103.0,572.5 103.0,573.9 103.2,575.4 103.4,576.9 103.5,578.4 103.7,579.9 103.9,581.4 104.0,582.9 104.2,584.4 104.4,585.9 104.5,587.4 104.7,588.8 104.9,590.3 105.0,591.8 105.2,593.3 105.4,594.8 105.6,596.3 105.7,597.8 105.9,599.3 106.1,600.8 106.3,602.3 106.4,603.7 106.6,605.2 106.8,606.7 107.0,608.2 107.2,609.7 107.4,611.2 107.6,612.7 107.8,614.2 108.0,615.7 108.2,617.1 108.4,618.6 108.6,620.1 108.8,621.6 109.0,623.1 109.3,624.6 109.5,626.1 109.7,627.5 110.0,629.0 110.2,630.5 110.5,632.0 110.8,633.5 111.0,634.9 111.3,636.4 111.6,637.8 111.9,639.4 112.2,640.8 112.5,642.3 112.8,643.8 113.0,645.3 113.3,646.7 113.6,648.1 114.0,649.5 114.3,650.9 114.8,652.4 115.2,653.7 115.6,655.3 116.1,656.9 116.5,658.3 116.9,659.7 117.4,661.2 117.8,662.8 118.3,664.1 118.7,665.3 119.2,667.0 119.6,668.8 120.1,670.4 120.5,671.8 121.0,673.1 121.4,674.6 121.9,675.7 122.4,676.9 122.8,678.6 123.2,680.1 123.7,681.4 124.1,682.9 124.6,684.3 125.0,685.4 125.4,686.6 125.8,688.3 126.2,690.0 126.6,691.4 127.0,692.8 127.4,694.2 127.8,695.5 128.2,696.9 128.6,698.4 129.0,699.9 129.4,701.5 129.7,702.9 130.0,704.3 130.3,705.9 130.7,707.4 131.1,709.1 131.8,712.1 132.8,713.2 133.9,713.1 135.3,715.7 136.7,716.0 138.1,712.7 139.5,710.6 140.9,710.4 142.3,715.0 143.6,719.9 144.8,719.0 146.0,717.8 147.1,718.2 148.2,718.6 149.2,720.3 150.3,721.1 151.4,722.4 152.6,724.9 153.8,725.8 155.1,725.6 156.6,725.6 157.9,725.9 158.9,725.3 159.7,724.0 160.4,722.5 161.0,720.6 161.5,718.9 162.1,717.5 162.6,716.2 163.2,714.3 163.8,712.4 164.5,711.4 165.3,710.0 166.2,709.8 167.4,710.8 168.5,709.2 169.7,706.2 170.8,703.5 171.6,702.6 172.3,702.8 172.9,701.8 173.4,700.1 173.8,698.6 174.2,697.1 174.5,695.7 174.9,694.3 175.3,693.0 175.6,691.5 176.0,689.9 176.4,688.6 176.8,687.3 177.2,685.7 177.6,684.2 178.0,682.8 178.4,681.1 178.8,679.7 179.3,678.4 179.6,676.9 180.0,675.4 180.4,674.0 180.8,672.6 181.1,671.0 181.5,669.6 181.8,668.2 182.1,666.8 182.4,665.3 182.7,663.8 183.0,662.4 183.3,660.9 183.5,659.5 183.8,658.0 184.0,656.5 184.3,655.0 184.5,653.5 184.7,652.0 184.9,650.6 185.1,649.1 185.4,647.6 185.6,646.1 185.8,644.6 186.0,643.1 186.2,641.6 186.4,640.2 186.6,638.7 186.8,637.2 187.0,635.7 187.2,634.2 187.4,632.7 187.6,631.2 187.8,629.7 187.9,628.2 188.1,626.8 188.3,625.3 188.5,623.8 188.7,622.3 188.9,620.8 189.0,619.3 189.2,617.8 189.4,616.3 189.6,614.8 189.7,613.4 189.9,611.9 190.1,610.4 190.2,608.9 190.4,607.4 190.6,605.9 190.8,604.4 190.9,602.9 191.1,601.4 191.2,599.9 191.4,598.4 191.6,597.0 191.7,595.5 191.9,594.0 192.0,592.5 192.2,591.0 192.3,589.5 192.5,588.0 192.6,586.5 192.7,585.0 192.9,583.5 193.0,582.0 193.1,580.5 193.2,579.0 193.3,577.5 193.4,576.0 193.5,574.5 193.6,573.0 193.7,571.5 193.8,570.1 193.9,568.6 194.0,567.1 194.0,565.6 194.1,564.1 194.2,562.6 194.2,561.1 194.3,559.6 194.4,558.1 194.4,556.6 194.5,555.1 194.6,553.6 194.6,552.1 194.7,550.6 194.8,549.1 194.9,547.6 194.9,546.1 195.0,544.6 195.1,543.1 195.2,541.6 195.3,540.1 195.4,538.6 195.5,537.1 195.6,535.6 195.7,534.1 195.8,532.6 195.9,531.1 196.0,529.6 196.2,528.1 196.3,526.6 196.4,525.1 196.5,523.6 196.6,522.1 196.8,520.6 196.9,519.1 197.0,517.7 197.1,516.2 197.2,514.7 197.3,513.2 197.5,511.7 197.6,510.2 197.7,508.7 197.8,507.2 197.9,505.7 198.0,504.2 198.1,502.7 198.2,501.2 198.3,499.7 198.4,498.2 198.5,496.7 198.6,495.2 198.7,493.7 198.8,492.2 198.9,490.7 199.0,489.2 199.1,487.7 199.2,486.2 199.3,484.7 199.4,483.2 199.5,481.7 199.6,480.2 199.7,478.7 199.8,477.3 199.9,475.8 200.0,474.3 200.1,472.8 200.2,471.3 200.3,469.8 200.5,468.3 200.6,466.8 200.8,465.3 200.9,463.8 201.1,462.3 201.3,460.8 201.4,459.3 201.6,457.8 201.9,456.3 202.1,454.8 202.5,453.1 203.0,455.1 204.1,459.9 204.7,454.7 205.2,454.6 205.7,455.7 206.2,457.3 206.7,458.9 207.1,460.7 207.6,462.3 208.0,463.3 208.3,464.4 208.7,465.9 209.0,467.6 209.3,469.1 209.6,470.6 209.9,472.1 210.2,473.6 210.5,475.1 210.8,476.5 211.0,478.0 211.3,479.5 211.5,481.0 211.7,482.4 212.0,483.9 212.2,485.4 212.4,486.9 212.6,488.4 212.7,489.9 212.9,491.4 213.1,492.9 213.3,494.4 213.5,495.8 213.6,497.3 213.8,498.8 214.0,500.3 214.1,501.8 214.3,503.3 214.5,504.8 214.6,506.3 214.8,507.8 215.0,509.2 215.1,510.7 215.3,512.2 215.4,513.7 215.6,515.2 215.8,516.7 215.9,518.2 216.1,519.7 216.2,521.2 216.3,522.7 216.5,524.2 216.6,525.7 216.8,527.2 216.9,528.7 217.0,530.2 217.2,531.7 217.3,533.1 217.4,534.6 217.6,536.1 217.7,537.6 217.8,539.1 217.9,540.6 218.0,542.1 218.2,543.6 218.3,545.1 218.4,546.6 218.5,548.1 218.6,549.6 218.7,551.1 218.8,552.6 218.9,554.1 219.0,555.6 219.1,557.1 219.3,558.6 219.4,560.1 219.5,561.6 219.6,563.1 219.7,564.6 219.8,566.1 219.9,567.6 220.0,569.0 220.1,570.5 220.2,572.0 220.3,573.5 220.4,575.0 220.5,576.5 220.5,578.0 220.6,579.5 220.7,581.0 220.8,582.5 220.9,584.0 221.0,585.5 221.1,587.0 221.2,588.5 221.3,590.0 221.4,591.5 221.5,593.0 221.6,594.5 221.7,596.0 221.8,597.5 221.9,599.0 222.0,600.5 222.0,602.0 222.1,603.5 222.2,605.0 222.3,606.5 222.4,608.0 222.5,609.5 222.6,611.0 222.7,612.5 222.8,614.0 222.9,615.5 223.0,617.0 223.0,618.5 223.1,619.9 223.2,621.4 223.3,622.9 223.4,624.4 223.5,625.9 223.6,627.4 223.6,628.9 223.7,630.4 223.8,631.9 223.9,633.4 224.0,634.9 224.0,636.4 224.1,637.9 224.2,639.4 224.2,640.9 224.3,642.4 224.4,643.9 224.5,645.4 224.5,646.9 224.6,648.4 224.7,649.9 224.8,651.4 224.8,652.9 224.9,654.4 225.0,655.9 225.1,657.4 225.1,658.9 225.2,660.4 225.3,661.9 225.4,663.4 225.5,664.9 225.6,666.4 225.7,667.9 225.8,669.4 225.9,670.9 226.0,672.4 226.0,673.9 226.1,675.4 226.2,676.9 226.3,678.4 226.4,679.9 226.5,681.4 226.6,682.9 226.7,684.3 226.8,685.8 226.9,687.3 227.0,688.8 227.1,690.3 227.2,691.8 227.3,693.3 227.4,694.8 227.5,696.3 227.6,697.8 227.7,699.3 227.8,700.8 227.9,702.3 228.0,703.8 228.2,705.3 228.3,706.8 228.4,708.3 228.5,709.8 228.7,711.3 228.8,712.8 229.0,714.3 229.1,715.7 229.3,717.2 229.5,718.7 229.7,720.2 229.9,721.7 230.1,723.2 230.3,724.6 230.5,726.1 230.7,727.7 231.0,729.1 231.3,730.5 231.6,732.1 231.9,733.6 232.3,735.1 232.6,736.5 233.0,737.8 233.4,739.2 233.8,740.8 234.2,742.1 234.6,743.7 235.0,745.2 235.5,746.3 235.8,747.7 236.2,749.1 236.6,750.6 237.0,752.1 237.4,753.5 237.7,754.8 238.1,756.4 238.5,758.2 238.9,759.9 239.3,761.2 239.7,762.6 240.1,764.1 240.5,766.0 241.0,768.1 241.5,769.7 241.9,770.8 242.4,771.6 243.0,772.7 243.5,774.9 244.1,776.5 244.7,776.0 245.4,775.9 246.1,776.5 246.8,778.4 247.6,779.0 248.4,776.7 249.2,777.1 250.0,779.5 250.9,782.2 251.8,786.2 252.8,786.3 253.8,786.3 254.8,790.7 255.8,791.7 256.8,791.4 257.9,795.5 258.9,798.6 260.1,801.9 261.2,804.3 262.3,800.8 263.5,796.5 264.7,795.8 265.9,798.6 267.1,798.6 268.3,798.9 269.5,803.3 270.8,805.8 272.1,805.7 273.4,805.5 274.7,802.6 276.0,803.9 277.4,810.8 278.7,811.1 280.1,806.9 281.4,803.5 282.8,805.7 284.2,810.4 285.6,809.0 287.0,807.1 288.4,809.6 289.8,811.8 291.2,809.4 292.6,810.6 294.1,816.5 295.5,820.5 296.9,823.4 298.3,818.5 299.8,810.1 301.2,809.2 302.6,814.1 304.1,816.7 305.5,818.1 306.9,822.4 308.4,823.3 309.8,825.2 311.3,825.6 312.7,820.1 314.2,819.6 315.7,825.1 317.1,829.5 318.6,827.8 320.1,825.3 321.5,825.9 323.0,825.7 324.5,823.2 326.0,823.3 327.4,827.1 328.9,824.9 330.4,821.5 331.9,823.8 333.4,827.6 334.8,828.2 336.3,822.3 337.8,823.3 339.3,831.3 340.8,832.1 342.2,830.5 343.7,826.3 345.2,825.3 346.7,828.0 348.2,820.5 349.6,817.8 351.1,828.6 352.6,835.6 354.1,835.7 355.6,831.9 357.1,826.4 358.6,825.9 360.0,829.9 361.5,831.9 363.0,831.7 364.5,834.6 366.0,837.2 367.5,836.5 369.0,834.3 370.5,829.3 371.9,825.1 373.4,826.1 374.9,828.6 376.4,829.1 377.9,828.7 379.4,828.6 380.9,833.5 382.4,837.9 383.8,835.8 385.3,832.2 386.8,830.3 388.3,829.9 389.8,832.8 391.3,838.8 392.8,841.8 394.3,839.6 395.8,837.7 397.3,837.9 398.7,833.8 400.2,827.7 401.7,826.8 403.2,829.4 404.7,832.4 406.2,834.7 407.6,834.4 409.1,833.1 410.6,837.1 412.0,840.1 413.4,836.4 414.8,832.8 416.1,834.4 417.3,838.8 418.4,836.7 419.4,835.2 420.4,842.0 421.5,845.9 422.6,844.1 424.0,844.4 425.5,850.4 426.9,851.6 428.4,845.2 429.8,843.3 431.2,843.4 432.5,841.3 433.8,843.1 435.1,843.6 436.4,838.5 437.6,838.4 438.9,837.5 440.3,834.4 441.6,834.5 443.0,835.2 444.4,839.7 445.9,842.8 447.4,843.6 448.9,841.8 450.4,835.4 451.8,834.6 453.2,841.4 454.7,846.5 456.0,844.7 457.4,842.3 458.8,843.9 460.2,843.1 461.6,842.0 463.0,846.8 464.4,847.8 465.9,842.1 467.4,836.3 468.9,836.0 470.3,840.7 471.8,840.2 473.3,835.2 474.6,832.1 476.0,834.1 477.3,836.2 478.6,834.9 479.9,837.2 481.1,838.5 482.4,836.2 483.6,831.7 484.8,832.7 486.0,840.8 487.2,839.4 488.4,831.8 489.6,829.3 490.8,823.7 492.1,818.7 493.4,822.7 494.7,824.4 495.9,819.5 497.1,815.3 498.1,814.7 499.3,820.7 500.8,827.3 502.3,825.0 503.8,824.0 505.3,827.3 506.7,827.9 508.2,829.8 509.6,831.2 511.1,829.4 512.5,825.7 513.9,822.4 515.3,820.5 516.7,823.6 518.1,831.3 519.5,835.7 520.9,836.4 522.3,836.2 523.8,833.3 525.2,826.0 526.6,824.0 528.0,829.7 529.4,834.4 530.8,833.9 532.3,827.6 533.7,824.7 535.1,829.3 536.6,833.3 538.0,831.8 539.5,828.4 540.9,827.4 542.4,831.7 543.9,836.2 545.4,833.2 546.9,829.2 548.4,834.6 549.9,840.6 551.4,840.9 552.8,839.7 554.3,835.3 555.8,837.5 557.3,841.9 558.8,836.5 560.3,833.6 561.8,836.8 563.3,838.8 564.8,841.6 566.3,847.0 567.8,848.1 569.3,845.2 570.8,843.3 572.3,838.8 573.8,833.9 575.3,833.5 576.8,832.6 578.3,836.0 579.8,842.8 581.3,840.1 582.8,834.4 584.3,835.4 585.7,838.6 587.2,839.4 588.7,835.1 590.2,832.8 591.7,832.8 593.1,829.7 594.6,830.7 596.1,832.4 597.6,835.2 599.0,837.9 600.5,832.6 602.0,830.7 603.4,829.8 604.9,822.6 606.3,824.5 607.8,832.2 609.3,832.2 610.7,833.2 612.2,833.2 613.7,826.8 615.1,825.8 616.6,828.2 618.1,827.1 619.5,821.7 621.0,819.3 622.5,822.1 624.0,822.2 625.4,821.2 626.9,823.0 628.4,826.6 629.9,829.2 631.3,833.2 632.8,832.5 634.3,823.8 635.8,820.0 637.2,824.0 638.7,828.6 640.2,828.4 641.7,824.9 643.1,825.1 644.6,826.8 646.1,823.1 647.5,819.6 649.0,823.1 650.5,823.6 651.9,819.0 653.4,820.1 654.8,821.7 656.3,819.0 657.7,818.2 659.2,819.4 660.6,819.6 662.1,817.4 663.5,814.2 664.9,815.6 666.4,816.4 667.8,811.9 669.2,807.4 670.6,806.5 672.1,808.0 673.5,808.6 674.9,813.8 676.3,817.7 677.7,813.0 679.1,810.1 680.6,814.5 682.0,820.0 683.4,817.9 684.8,813.1 686.2,812.7 687.6,812.5 689.0,812.8 690.5,812.4 691.9,810.4 693.3,808.1 694.7,808.0 696.1,807.1 697.6,800.9 699.0,799.2 700.4,802.6 701.9,804.7 703.3,807.4 704.7,807.2 706.1,801.3 707.6,802.3 709.0,804.5 710.4,797.8 711.9,797.9 713.3,800.6 714.8,802.0 716.2,805.9 717.7,797.9 719.1,789.0 720.6,795.7 722.0,804.4 723.5,805.7 725.0,799.2 726.5,792.2 728.0,791.7 729.4,790.5 730.9,790.0 732.4,795.8 733.9,801.1 735.4,802.4 736.9,801.8 738.4,798.3 739.8,798.6 741.3,802.7 742.7,797.5 744.1,791.7 745.5,791.8 746.8,790.9 748.2,793.2 749.4,794.6 750.7,790.8 751.9,790.0 753.1,791.3 754.3,789.7 755.5,786.2 756.7,782.2 757.8,782.1 759.0,784.3 760.1,784.1 761.2,782.9 762.4,778.6 763.6,775.3 764.7,776.0 765.9,776.5 767.1,779.7 768.3,781.5 769.5,779.4 770.8,779.7 772.0,782.0 773.3,776.9 774.6,768.1 776.0,770.3 777.3,773.7 778.6,767.4 780.0,765.5 781.3,768.6 782.7,768.9 784.0,772.0 785.4,771.8 786.7,764.7 788.1,765.7 789.5,773.2 790.8,772.0 792.2,767.4 793.6,769.2 794.9,772.0 796.3,768.1 797.6,762.4 799.0,762.8 800.3,765.9 801.6,764.7 802.9,762.1 804.1,757.4 805.3,755.1 806.5,759.7 807.7,758.1 808.9,749.1 810.2,746.0 811.6,747.7 812.9,750.6 814.3,752.1 815.7,747.9 817.1,747.7 818.5,751.5 819.9,748.3 821.4,740.5 822.8,738.2 824.2,740.0 825.6,743.3 827.0,746.6 828.4,748.3 829.9,748.7 831.3,744.6 832.7,741.8 834.1,743.2 835.5,743.2 836.8,742.8 838.2,746.5 839.6,749.5 840.9,748.2 842.3,747.6 843.6,744.1 844.9,741.0 846.2,743.9 847.5,742.1 848.7,737.5 849.9,739.7 851.1,741.9 852.3,741.1 853.5,738.2 854.6,730.0 855.8,723.4 856.9,725.3 858.0,728.2 859.2,729.2 860.3,726.9 861.4,722.4 862.6,726.0 863.7,730.7 864.8,727.2 866.0,724.9 867.1,722.7 868.3,718.0 869.5,722.3 870.7,726.2 871.9,721.3 873.1,718.8 874.4,718.1 875.7,718.0 877.0,720.8 878.3,717.9 879.7,706.3 881.1,703.0 882.5,710.0 884.0,711.2 885.4,710.0 886.9,712.0 888.4,713.0 889.9,714.4 891.4,715.1 892.9,713.7 894.3,712.6 895.8,710.3 897.3,708.7 898.8,712.2 900.3,717.9 901.8,718.6 903.2,714.3 904.7,709.7 906.1,709.3 907.5,713.6 908.9,716.5 910.3,714.2 911.6,709.6 912.9,706.4 914.2,706.3 915.4,709.5 916.7,712.0 917.9,712.1 919.1,710.4 920.3,706.2 921.4,699.2 922.6,697.4 923.7,701.3 924.9,702.1 926.0,697.4 927.1,691.7 928.3,691.6 929.4,693.6 930.5,689.5 931.6,683.5 932.7,685.1 933.8,686.8 934.9,683.3 936.1,684.9 937.2,690.3 938.3,688.8 939.4,684.5 940.6,684.3 941.7,685.7 942.9,687.2 944.1,682.6 945.2,670.6 946.4,666.4 947.6,670.1 948.7,672.8 949.9,676.0 951.1,680.0 952.2,682.7 953.4,676.4 954.6,668.7 955.7,671.6 956.9,676.5 958.1,675.1 959.2,669.8 960.4,663.9 961.6,660.5 962.7,666.0 963.9,672.5 965.1,667.0 966.3,657.6 967.4,656.6 968.6,663.9 969.8,669.5 971.0,666.2 972.2,657.3 973.4,654.7 974.6,657.9 975.8,658.9 977.0,657.1 978.2,652.5 979.4,650.5 980.6,649.4 981.8,651.5 983.1,652.8 984.3,644.0 985.5,640.2 986.7,646.7 988.0,649.0 989.2,648.1 990.4,648.8 991.7,642.1 992.9,634.5 994.2,639.4 995.4,644.4 996.6,640.0 997.9,639.3 999.1,647.1 1000.4,650.6 1001.6,643.8 1002.8,640.4 1004.1,643.2 1005.3,642.7 1006.5,639.5 1007.8,637.8 1009.0,637.2 1010.2,638.1 1011.5,640.2 1012.7,636.8 1013.9,634.2 1015.1,634.8 1016.3,625.7 1017.5,615.4 1018.8,616.6 1020.0,622.8 1021.2,628.5 1022.4,628.7 1023.6,624.9 1024.8,625.0 1026.0,623.1 1027.3,619.7 1028.5,616.4 1029.7,611.1 1030.9,613.9 1032.2,618.0 1033.4,615.5 1034.7,614.4 1035.9,613.3 1037.2,608.9 1038.4,606.8 1039.7,609.6 1041.0,608.2 1042.3,612.0 1043.6,616.7 1044.9,607.0 1046.2,604.1 1047.6,611.0 1048.9,610.3 1050.3,605.2 1051.6,606.4 1053.0,608.2 1054.4,606.5 1055.7,604.9 1057.1,601.3 1058.5,600.8 1059.8,601.3 1061.2,598.5 1062.5,597.2 1063.9,594.3 1065.2,595.3 1066.6,600.1 1067.9,596.0 1069.2,590.8 1070.5,593.8 1071.8,595.1 1073.1,592.5 1074.3,590.8 1075.6,586.2 1076.8,585.8 1078.0,593.0 1079.2,596.8 1080.4,599.3 1081.6,602.1 1082.7,598.6 1083.9,590.7 1085.0,584.5 1086.2,584.4 1087.3,587.7 1088.4,585.6 1089.6,579.3 1090.7,575.2 1091.8,574.9 1092.9,575.7 1094.0,575.2 1095.1,575.4 1096.2,578.7 1097.2,581.6 1098.3,578.8 1099.4,574.9 1100.5,574.7 1101.6,576.9 1102.6,573.9 1103.6,564.9 1104.6,562.6 1105.6,568.5 1106.6,571.9 1107.6,569.3 1108.6,564.4 1109.5,560.9 1110.5,562.3 1111.4,561.8 1112.4,556.7 1113.4,557.6 1114.4,560.9 1115.4,556.9 1116.4,552.5 1117.5,552.1 1118.6,551.2 1119.8,552.3 1120.9,552.5 1122.1,549.1 1123.3,547.2 1124.5,542.0 1125.8,534.1 1127.0,534.5 1128.3,541.8 1129.6,547.9 1130.9,544.1 1132.3,536.3 1133.6,535.5 1135.0,530.7 1136.4,526.2 1137.8,530.9 1139.3,536.3 1140.7,540.8 1142.2,539.2 1143.7,533.7 1145.2,536.4 1146.7,543.1 1148.2,544.6 1149.7,541.6 1151.1,536.0 1152.6,536.7 1154.1,544.9 1155.6,546.2 1157.1,539.2 1158.6,537.1 1160.0,541.6 1161.5,539.3 1162.8,534.2 1164.2,539.0 1165.5,541.1 1166.8,539.4 1168.0,541.5 1169.3,540.2 1170.5,534.3 1171.8,528.4 1173.0,527.2 1174.2,530.4 1175.4,532.6 1176.7,531.2 1178.0,529.1 1179.2,526.7 1180.5,522.6 1181.8,521.8 1183.1,521.3 1184.4,521.2 1185.6,523.2 1186.9,524.2 1188.2,525.7 1189.5,522.0 1190.8,516.2 1192.1,517.1 1193.4,517.0 1194.7,515.3 1196.1,515.8 1197.5,514.0 1198.9,508.9 1200.4,506.0 1201.9,507.0 1203.4,509.9 1204.9,513.4 1206.4,514.1 1207.9,515.1 1209.3,517.6 1210.8,515.4 1212.3,514.5 1213.8,515.5 1215.3,514.7 1216.8,519.3 1218.3,523.1 1219.8,524.2 1221.3,524.8 1222.8,516.6 1224.3,513.3 1225.8,520.1 1227.3,521.7 1228.7,520.3 1230.2,518.1 1231.7,516.7 1233.2,516.4 1234.7,515.7 1236.2,518.0 1237.7,519.1 1239.2,521.2 1240.7,524.2 1242.2,523.6 1243.7,524.5 1245.2,526.0 1246.7,522.7 1248.2,520.3 1249.7,519.9 1251.2,515.7 1252.6,510.4 1254.1,510.9 1255.5,515.9 1256.9,519.7 1258.2,521.0 1259.6,519.5 1260.9,518.3 1262.3,516.1 1263.7,514.3 1265.1,514.7 1266.5,514.0 1268.0,512.5 1269.5,508.6 1270.9,510.9 1272.4,518.6 1273.9,515.9 1275.4,510.2 1276.9,510.6 1278.4,511.8 1279.9,510.8 1281.4,509.6 1282.9,512.0 1284.4,515.0 1285.9,515.4 1287.4,513.9 1288.9,514.9 1290.4,521.0 1291.9,523.9 1293.4,521.1 1294.9,519.9 1296.4,518.5 1297.9,519.4 1299.4,521.1 1300.9,511.3 1302.3,505.3 1303.7,510.8 1305.1,512.7 1306.5,509.9 1307.9,510.4 1309.2,513.7 1310.5,514.1 1311.9,512.4 1313.2,515.1 1314.6,519.6 1316.1,518.2 1317.5,516.4 1319.0,516.6 1320.4,516.2 1321.5,515.3 1322.4,515.9 1323.3,517.2 1324.0,513.9 1324.6,511.3 1325.2,511.6 1325.8,510.4 1326.4,507.2 1326.9,504.9 1327.0,504.2" stroke="#0000FF" fill="none" stroke-width="3.0" stroke-linejoin="round"/><path id="c_dkgreen" d="M103.0,643.0 103.0,644.4 103.0,646.0 103.0,647.4 103.0,648.9 103.3,650.4 103.5,651.9 103.8,653.4 104.0,654.8 104.3,656.3 104.5,657.8 104.8,659.2 105.1,660.7 105.3,662.2 105.6,663.7 105.9,665.2 106.1,666.6 106.4,668.1 106.7,669.6 107.0,671.1 107.3,672.5 107.6,674.0 108.0,675.6 108.3,677.0 108.7,678.5 109.0,680.0 109.4,681.5 109.8,682.8 110.2,684.3 110.6,685.7 111.1,687.0 111.5,688.6 111.9,690.2 112.4,691.7 112.8,692.8 113.3,694.0 113.7,695.6 114.2,697.1 114.6,698.5 115.1,699.8 115.5,701.4 116.0,702.9 116.4,704.1 116.9,705.4 117.3,707.0 117.8,708.6 118.2,710.3 118.7,711.7 119.1,712.7 119.6,714.0 120.0,715.4 120.5,716.8 121.0,718.3 121.5,719.7 122.0,721.4 122.5,723.3 123.0,724.9 123.5,726.4 124.1,727.7 124.7,728.6 125.3,729.9 125.9,731.8 126.6,732.9 127.4,733.4 128.1,735.7 128.9,737.4 129.8,737.3 130.7,739.4 131.6,741.9 132.6,741.9 133.6,742.2 134.6,744.6 135.7,747.4 136.8,747.8 138.1,747.1 139.5,750.1 140.9,752.6 142.4,750.1 143.9,748.4 145.4,746.6 146.9,743.7 148.4,743.9 149.9,741.5 151.3,738.5 152.8,740.2 154.3,743.1 155.8,744.5 157.2,743.4 158.6,743.8 160.0,746.7 161.5,747.8 162.9,748.7 164.3,748.8 165.6,746.4 166.9,744.7 168.1,743.9 169.2,743.3 170.4,742.9 171.6,741.4 172.8,742.1 174.1,744.6 175.5,744.2 176.9,742.2 178.3,740.5 179.7,738.1 180.9,735.5 182.0,734.4 182.8,733.7 183.5,733.1 184.1,732.3 184.6,730.7 185.0,729.2 185.3,727.9 185.6,726.6 185.9,725.1 186.2,723.6 186.4,722.1 186.7,720.7 186.9,719.2 187.1,717.7 187.3,716.2 187.5,714.7 187.6,713.2 187.8,711.7 188.0,710.2 188.2,708.8 188.4,707.3 188.5,705.8 188.7,704.3 188.9,702.8 189.1,701.3 189.3,699.8 189.5,698.3 189.7,696.9 189.9,695.4 190.2,693.9 190.4,692.4 190.6,690.9 190.8,689.4 191.0,687.9 191.2,686.4 191.4,685.0 191.6,683.5 191.8,682.0 192.0,680.5 192.2,679.0 192.4,677.5 192.6,676.1 192.8,674.6 193.1,673.1 193.3,671.6 193.5,670.1 193.7,668.6 193.9,667.1 194.1,665.7 194.3,664.2 194.5,662.7 194.7,661.2 194.9,659.7 195.1,658.2 195.3,656.7 195.6,655.2 195.8,653.8 196.0,652.3 196.3,650.8 196.5,649.4 196.7,647.9 197.0,646.4 197.2,644.9 197.4,643.5 197.7,642.0 197.9,640.5 198.1,639.0 198.3,637.5 198.5,636.0 198.7,634.5 198.9,633.0 199.1,631.5 199.2,630.0 199.4,628.5 199.5,627.0 199.7,625.6 199.8,624.1 200.0,622.6 200.1,621.1 200.3,619.6 200.4,618.1 200.6,616.6 200.7,615.1 200.8,613.6 201.0,612.1 201.1,610.6 201.2,609.1 201.4,607.6 201.5,606.1 201.6,604.6 201.8,603.1 201.9,601.7 202.0,600.2 202.2,598.7 202.3,597.2 202.5,595.7 202.6,594.2 202.7,592.7 202.9,591.2 203.0,589.7 203.2,588.2 203.3,586.7 203.5,585.2 203.6,583.7 203.7,582.2 203.9,580.7 204.0,579.3 204.2,577.8 204.3,576.3 204.5,574.8 204.6,573.3 204.8,571.8 204.9,570.3 205.1,568.8 205.2,567.3 205.4,565.8 205.5,564.3 205.7,562.8 205.9,561.4 206.0,559.9 206.2,558.4 206.3,556.9 206.5,555.4 206.6,553.9 206.8,552.4 207.0,550.9 207.1,549.4 207.3,547.9 207.4,546.4 207.6,544.9 207.8,543.4 207.9,542.0 208.1,540.5 208.3,539.0 208.5,537.5 208.8,535.9 209.1,534.0 209.6,526.8 210.5,534.2 210.9,535.1 211.2,536.4 211.6,537.9 211.9,539.4 212.2,540.8 212.5,542.3 212.7,543.8 213.0,545.3 213.2,546.8 213.4,548.3 213.7,549.8 213.9,551.2 214.1,552.7 214.3,554.2 214.6,555.7 214.8,557.2 215.0,558.6 215.2,560.1 215.5,561.6 215.7,563.0 215.9,564.5 216.2,566.0 216.4,567.5 216.7,569.0 217.0,570.5 217.2,572.0 217.5,573.5 217.8,575.0 218.1,576.5 218.3,577.9 218.6,579.4 218.9,580.8 219.1,582.2 219.4,583.7 219.6,585.2 219.8,586.7 220.0,588.2 220.3,589.7 220.5,591.2 220.7,592.7 220.9,594.2 221.1,595.6 221.3,597.1 221.5,598.6 221.7,600.1 221.9,601.6 222.1,603.1 222.3,604.6 222.5,606.1 222.7,607.5 222.9,609.0 223.1,610.5 223.3,612.0 223.5,613.5 223.7,615.0 223.9,616.5 224.1,618.0 224.3,619.5 224.5,620.9 224.7,622.4 224.8,623.9 225.0,625.4 225.2,626.9 225.4,628.4 225.6,629.8 225.7,631.3 225.9,632.8 226.1,634.3 226.2,635.8 226.4,637.3 226.6,638.8 226.7,640.3 226.9,641.8 227.0,643.3 227.2,644.8 227.3,646.3 227.5,647.8 227.6,649.3 227.7,650.8 227.8,652.2 228.0,653.7 228.1,655.2 228.2,656.7 228.3,658.2 228.4,659.7 228.5,661.2 228.6,662.7 228.7,664.2 228.8,665.7 228.9,667.2 229.0,668.7 229.1,670.2 229.2,671.7 229.3,673.2 229.4,674.7 229.5,676.2 229.6,677.7 229.7,679.2 229.8,680.7 229.9,682.2 230.0,683.7 230.2,685.2 230.3,686.7 230.4,688.2 230.5,689.7 230.6,691.1 230.7,692.6 230.8,694.1 230.9,695.6 231.1,697.1 231.2,698.6 231.3,700.1 231.4,701.6 231.5,703.1 231.6,704.6 231.7,706.1 231.8,707.6 231.9,709.1 232.0,710.6 232.1,712.1 232.1,713.6 232.2,715.1 232.3,716.6 232.4,718.1 232.5,719.6 232.7,721.1 232.8,722.6 232.9,724.1 233.0,725.6 233.1,727.1 233.3,728.6 233.4,730.1 233.5,731.6 233.7,733.0 233.8,734.5 234.0,736.0 234.2,737.5 234.4,739.0 234.5,740.5 234.7,742.0 234.9,743.5 235.1,744.9 235.4,746.4 235.6,748.0 235.8,749.5 236.1,750.9 236.3,752.4 236.5,753.8 236.8,755.3 237.0,756.8 237.3,758.3 237.5,759.8 237.8,761.3 238.0,762.7 238.3,764.2 238.5,765.6 238.8,767.2 239.1,768.7 239.4,770.1 239.6,771.6 239.9,773.2 240.2,774.6 240.5,776.1 240.8,777.6 241.1,779.0 241.5,780.4 241.8,781.9 242.1,783.4 242.5,784.9 242.8,786.3 243.2,787.6 243.6,788.9 244.0,790.2 244.4,791.9 244.8,793.6 245.3,795.2 245.7,796.1 246.2,796.1 246.7,798.1 247.2,800.4 247.8,800.7 248.4,802.3 249.0,803.5 249.6,801.8 250.3,803.4 251.1,807.5 251.8,810.5 252.6,815.2 253.5,818.0 254.3,816.3 255.3,813.5 256.2,815.5 257.2,822.6 258.2,823.6 259.2,818.3 260.3,819.2 261.3,823.3 262.4,828.0 263.5,829.3 264.6,823.7 265.7,820.5 266.8,820.2 267.9,821.8 269.0,823.8 270.1,828.5 271.3,836.2 272.4,839.2 273.6,835.7 274.8,831.3 276.0,827.5 277.2,826.3 278.5,831.9 279.7,837.9 281.0,841.9 282.2,842.8 283.5,838.0 284.8,837.8 286.1,840.9 287.4,836.5 288.7,836.3 290.0,844.8 291.4,852.2 292.7,855.5 294.1,855.1 295.4,851.3 296.8,848.0 298.2,847.1 299.5,843.3 300.9,840.0 302.3,845.8 303.7,853.6 305.1,854.4 306.5,853.2 308.0,856.8 309.4,862.2 310.8,860.2 312.2,856.0 313.7,859.2 315.1,860.8 316.5,857.0 318.0,858.0 319.4,859.2 320.9,856.9 322.3,858.2 323.7,859.7 325.2,857.6 326.6,854.3 328.1,854.0 329.5,855.5 331.0,854.5 332.4,854.8 333.9,857.2 335.3,857.5 336.8,859.5 338.3,859.4 339.7,856.0 341.2,856.6 342.7,857.7 344.1,860.9 345.6,864.2 347.1,863.5 348.6,862.4 350.0,864.3 351.5,864.5 353.0,858.4 354.5,856.9 355.9,858.6 357.4,857.8 358.9,861.3 360.4,862.9 361.9,860.0 363.3,860.3 364.8,862.7 366.3,858.5 367.8,854.3 369.3,860.7 370.8,864.2 372.2,863.5 373.7,866.1 375.2,866.1 376.7,867.9 378.2,871.1 379.7,872.4 381.2,874.7 382.6,870.4 384.1,860.0 385.6,860.0 387.1,872.4 388.6,880.8 390.1,878.5 391.6,870.7 393.1,865.0 394.6,865.0 396.1,869.5 397.6,872.8 399.1,868.4 400.6,864.3 402.1,864.0 403.6,857.1 405.1,854.9 406.6,865.4 408.1,868.5 409.6,865.4 411.1,867.4 412.6,867.4 414.1,864.2 415.6,863.6 417.1,864.9 418.6,865.3 420.1,862.8 421.6,859.2 423.1,864.1 424.6,873.5 426.1,875.0 427.6,873.5 429.1,874.8 430.6,872.1 432.1,868.8 433.6,869.7 435.1,867.4 436.6,863.8 438.1,864.6 439.5,865.8 441.0,865.2 442.5,865.3 444.0,868.5 445.5,873.5 447.0,876.1 448.4,874.2 449.9,871.1 451.4,871.6 452.9,869.3 454.4,865.3 455.9,869.1 457.3,869.2 458.8,861.9 460.3,864.5 461.8,873.6 463.3,876.3 464.8,875.7 466.3,874.5 467.8,870.9 469.3,869.4 470.8,872.1 472.3,874.1 473.8,872.4 475.3,871.1 476.8,872.7 478.3,868.7 479.8,862.9 481.3,866.6 482.7,868.3 484.2,863.5 485.6,865.2 487.0,865.4 488.3,865.4 489.7,874.3 491.0,873.4 492.3,864.0 493.6,861.6 494.9,858.7 496.1,856.1 497.4,856.6 498.7,856.4 500.0,856.9 501.1,857.5 501.2,856.3 502.1,849.9 503.6,852.0 505.1,857.1 506.6,860.7 508.0,863.3 509.5,860.3 511.0,853.7 512.4,853.1 513.9,856.9 515.4,856.3 516.8,855.1 518.3,857.7 519.7,858.4 521.2,857.4 522.6,860.0 524.1,866.9 525.6,875.2 527.0,877.8 528.5,872.6 529.9,864.9 531.4,857.2 532.9,859.6 534.4,864.4 535.8,858.7 537.3,859.0 538.8,863.6 540.3,866.1 541.7,865.7 543.2,858.4 544.7,855.1 546.2,858.3 547.7,865.2 549.2,867.3 550.7,861.9 552.2,864.0 553.7,867.1 555.2,865.0 556.7,868.4 558.2,872.1 559.7,867.9 561.2,865.5 562.7,868.8 564.2,867.9 565.7,866.1 567.2,868.4 568.7,869.5 570.2,864.9 571.7,860.2 573.2,860.5 574.7,864.1 576.2,867.8 577.7,864.9 579.2,860.6 580.7,862.8 582.2,867.6 583.7,869.3 585.2,870.3 586.7,871.0 588.2,872.1 589.7,875.4 591.2,875.2 592.7,868.2 594.2,862.1 595.7,864.4 597.1,865.3 598.6,865.8 600.1,867.3 601.6,863.0 603.1,861.3 604.6,865.4 606.1,866.2 607.6,863.7 609.1,865.4 610.6,870.7 612.0,872.4 613.5,867.2 615.0,859.7 616.5,857.6 618.0,859.5 619.5,857.3 620.9,856.4 622.4,857.7 623.9,853.8 625.4,850.9 626.9,853.3 628.3,859.5 629.8,861.5 631.3,857.6 632.7,858.9 634.2,858.4 635.7,857.4 637.2,861.7 638.6,858.8 640.1,852.8 641.5,851.5 643.0,852.8 644.5,856.7 645.9,858.0 647.4,856.8 648.9,854.9 650.3,849.2 651.8,848.3 653.3,855.8 654.7,860.2 656.2,859.5 657.7,859.7 659.2,858.0 660.6,853.3 662.1,850.5 663.6,852.3 665.1,857.7 666.5,857.0 668.0,847.1 669.5,841.5 671.0,843.0 672.5,844.7 673.9,848.6 675.4,854.1 676.9,852.2 678.4,845.4 679.8,847.8 681.3,854.0 682.8,852.3 684.3,851.3 685.7,852.3 687.2,849.3 688.7,851.2 690.1,857.1 691.6,856.1 693.1,849.8 694.5,846.4 696.0,849.5 697.4,852.0 698.8,848.4 700.2,848.3 701.6,848.9 703.0,844.3 704.4,844.9 705.8,849.4 707.2,850.4 708.5,845.0 709.9,840.7 711.2,842.7 712.6,842.4 713.9,844.0 715.3,845.0 716.7,840.2 718.1,841.6 719.5,840.6 720.9,832.4 722.3,832.7 723.7,836.5 725.1,834.7 726.5,830.3 728.0,827.3 729.4,829.2 730.8,832.8 732.2,834.5 733.6,834.0 735.1,829.0 736.5,827.5 737.9,829.2 739.4,826.2 740.8,824.1 742.2,825.7 743.6,831.1 745.1,833.6 746.5,832.2 747.9,827.2 749.3,820.5 750.8,822.0 752.2,826.1 753.6,826.0 755.0,826.2 756.5,827.5 757.9,825.7 759.3,823.0 760.7,820.8 762.1,819.5 763.5,816.3 764.9,814.3 766.3,818.6 767.7,819.8 769.1,817.5 770.5,815.5 771.9,815.5 773.3,817.0 774.7,820.6 776.0,822.1 777.4,816.0 778.8,811.4 780.2,809.6 781.6,807.4 782.9,807.9 784.3,810.0 785.7,812.9 787.1,816.6 788.4,817.0 789.8,816.5 791.2,815.0 792.5,812.4 793.9,810.9 795.3,804.9 796.6,797.6 797.9,796.4 799.2,799.2 800.5,806.4 801.7,812.8 802.9,807.9 804.0,797.0 805.1,792.3 806.2,798.6 807.3,799.5 808.5,787.2 809.7,785.3 810.9,791.6 812.1,788.9 813.4,785.3 814.6,786.4 815.9,786.2 817.2,783.9 818.4,783.0 819.7,786.6 820.9,788.2 822.2,783.4 823.5,786.0 824.7,794.6 826.0,793.1 827.3,785.7 828.5,784.9 829.8,790.2 831.1,791.7 832.4,788.2 833.7,785.1 835.0,783.1 836.3,783.4 837.6,780.7 839.0,778.5 840.3,781.5 841.7,776.1 843.0,767.9 844.4,770.3 845.8,777.3 847.2,776.9 848.6,769.5 850.1,769.8 851.5,773.2 853.0,772.0 854.5,773.0 855.9,773.1 857.4,772.0 858.9,774.7 860.4,773.2 861.9,769.4 863.4,772.4 864.8,773.3 866.3,767.2 867.8,763.4 869.3,762.9 870.7,760.8 872.2,764.8 873.6,773.5 875.0,778.5 876.4,775.7 877.7,768.3 879.1,765.8 880.4,763.2 881.6,760.2 882.9,759.2 884.1,755.1 885.3,753.6 886.6,755.7 887.7,758.9 888.9,763.1 890.1,761.0 891.2,753.7 892.4,751.7 893.5,755.3 894.7,755.6 895.8,753.3 897.0,758.1 898.1,761.3 899.2,757.8 900.4,757.0 901.5,754.2 902.7,747.5 903.8,740.8 905.0,740.8 906.2,744.4 907.4,741.1 908.6,742.5 909.8,749.4 911.1,745.4 912.3,735.2 913.6,732.6 914.9,736.0 916.2,738.0 917.5,736.7 918.8,733.6 920.1,732.5 921.4,734.6 922.7,737.0 924.0,741.3 925.4,742.3 926.7,734.9 928.0,733.1 929.4,738.1 930.7,737.9 932.0,732.1 933.3,730.0 934.7,733.8 936.0,733.9 937.3,729.1 938.6,727.0 939.9,725.2 941.2,717.7 942.4,710.9 943.7,714.5 945.0,723.9 946.2,725.4 947.5,723.0 948.7,725.1 950.0,726.2 951.2,723.4 952.5,721.7 953.7,722.5 955.0,719.0 956.2,716.9 957.4,720.3 958.7,720.8 959.9,720.5 961.1,722.2 962.3,721.5 963.6,719.2 964.8,718.8 966.0,715.9 967.2,705.3 968.4,697.6 969.6,700.1 970.9,706.0 972.1,710.0 973.3,710.8 974.5,706.4 975.7,700.2 976.9,698.5 978.1,701.1 979.3,704.4 980.4,704.0 981.6,701.5 982.8,700.8 984.0,697.3 985.2,689.6 986.3,686.5 987.5,686.7 988.7,684.9 989.8,685.4 991.0,688.4 992.2,687.0 993.3,685.2 994.5,687.3 995.6,689.6 996.8,688.3 998.0,685.2 999.1,685.5 1000.3,685.6 1001.5,683.6 1002.6,682.2 1003.8,680.1 1004.9,679.2 1006.1,681.9 1007.3,680.6 1008.5,675.6 1009.6,674.4 1010.8,672.1 1012.0,668.5 1013.1,668.6 1014.3,667.0 1015.5,666.1 1016.6,669.4 1017.8,671.3 1018.9,671.9 1020.1,667.0 1021.3,657.5 1022.4,654.8 1023.6,658.9 1024.8,658.9 1025.9,657.5 1027.1,657.6 1028.3,654.1 1029.4,652.6 1030.6,652.1 1031.8,648.0 1033.0,649.8 1034.1,653.7 1035.3,648.8 1036.5,645.9 1037.7,649.3 1038.9,648.1 1040.1,644.1 1041.3,646.8 1042.5,649.0 1043.7,644.1 1044.9,642.6 1046.1,644.1 1047.3,639.4 1048.5,638.0 1049.7,638.8 1051.0,630.9 1052.2,625.0 1053.4,625.6 1054.6,628.6 1055.8,632.8 1057.1,634.9 1058.3,635.0 1059.5,632.3 1060.8,631.5 1062.0,637.5 1063.2,638.5 1064.5,635.0 1065.7,636.2 1067.0,633.6 1068.2,626.7 1069.4,627.3 1070.7,626.7 1072.0,625.4 1073.2,631.3 1074.5,630.0 1075.7,623.2 1077.0,621.0 1078.3,623.8 1079.6,631.1 1080.9,633.9 1082.2,628.5 1083.5,623.7 1084.8,623.6 1086.1,624.9 1087.4,617.9 1088.7,608.6 1090.0,609.1 1091.3,610.1 1092.6,607.3 1094.0,609.3 1095.3,613.3 1096.5,612.8 1097.8,612.1 1099.1,611.4 1100.4,609.8 1101.6,609.2 1102.9,607.9 1104.1,609.1 1105.3,610.9 1106.5,608.9 1107.7,605.0 1108.9,600.7 1110.1,601.4 1111.3,602.8 1112.4,599.6 1113.6,598.1 1114.8,599.3 1116.1,601.2 1117.3,603.5 1118.5,597.7 1119.8,590.7 1121.1,596.7 1122.4,596.6 1123.7,589.3 1125.0,589.8 1126.3,587.8 1127.7,587.8 1129.0,594.2 1130.4,593.8 1131.7,590.8 1133.1,593.0 1134.4,596.4 1135.8,595.7 1137.2,591.2 1138.5,592.4 1139.9,593.9 1141.3,587.6 1142.7,584.3 1144.1,585.6 1145.5,585.2 1147.0,584.5 1148.4,584.5 1149.8,586.3 1151.2,587.2 1152.7,585.9 1154.1,583.2 1155.5,578.8 1156.8,579.6 1158.2,583.2 1159.6,581.9 1160.9,579.6 1162.1,579.7 1163.4,579.5 1164.6,579.5 1165.8,578.7 1167.0,572.7 1168.2,567.4 1169.4,565.9 1170.6,566.3 1171.8,571.9 1173.0,574.8 1174.2,571.0 1175.5,571.3 1176.8,572.7 1178.0,567.0 1179.4,564.5 1180.7,567.4 1182.1,567.3 1183.5,568.4 1185.0,571.5 1186.4,570.2 1187.9,568.9 1189.3,571.2 1190.8,567.8 1192.3,563.0 1193.7,563.3 1195.2,561.5 1196.7,560.4 1198.2,560.1 1199.7,566.2 1201.1,573.3 1202.6,565.8 1204.1,556.5 1205.6,555.3 1207.1,557.0 1208.6,561.1 1210.1,564.8 1211.6,561.0 1213.1,558.6 1214.6,560.5 1216.1,553.6 1217.6,550.9 1219.0,561.3 1220.4,566.9 1221.8,558.9 1223.0,553.2 1224.3,555.7 1225.4,556.2 1226.6,559.3 1227.7,562.9 1228.9,561.7 1230.0,557.8 1231.2,552.9 1232.4,551.5 1233.6,553.3 1234.8,553.4 1236.2,547.5 1237.6,544.0 1239.1,546.0 1240.5,544.2 1241.8,545.3 1243.0,551.6 1243.9,554.5 1244.9,552.6 1245.7,550.7 1246.5,553.8 1247.4,555.5 1248.2,553.1 1249.1,553.8 1250.0,558.5 1251.0,559.6 1252.1,559.2 1253.4,564.7 1254.9,567.3 1256.3,562.7 1257.7,558.7 1259.1,560.0 1260.3,561.5 1261.5,558.9 1262.6,560.3 1263.8,563.0 1264.9,557.4 1266.0,550.6 1267.1,550.1 1268.2,552.2 1269.3,547.7 1270.5,542.7 1271.7,547.6 1272.9,552.5 1274.2,551.0 1275.6,547.0 1277.0,546.5 1278.5,549.8 1279.9,549.0 1281.4,542.8 1282.9,541.4 1284.3,546.6 1285.7,550.9 1287.0,551.9 1288.3,552.9 1289.6,557.6 1290.9,562.7 1292.2,559.3 1293.4,549.4 1294.7,547.6 1295.9,557.5 1297.2,563.0 1298.4,551.2 1299.7,545.8 1300.9,555.9 1302.2,559.7 1303.5,563.3 1304.8,570.9 1306.2,570.4 1307.6,562.9 1309.1,557.7 1310.6,561.3 1312.0,568.1 1313.5,566.3 1315.0,556.3 1316.5,551.4 1317.9,554.4 1319.3,557.5 1320.6,558.9 1321.9,561.7 1323.2,566.3 1324.5,565.0 1325.8,559.6 1327.0,560.3" stroke="#008000" fill="none" stroke-width="3.0" stroke-linejoin="round"/><path id="c_green" d="M103.0,485.0 103.0,486.5 103.0,488.0 103.0,489.5 103.0,491.0 103.0,492.5 103.0,494.0 103.0,495.4 103.2,496.9 103.3,498.4 103.4,499.9 103.6,501.4 103.7,502.9 103.9,504.4 104.0,505.9 104.2,507.4 104.3,508.9 104.5,510.4 104.6,511.9 104.8,513.4 105.0,514.8 105.1,516.3 105.3,517.8 105.5,519.3 105.7,520.8 105.9,522.3 106.1,523.8 106.4,525.3 106.6,526.8 106.9,528.2 107.1,529.7 107.4,531.2 107.7,532.7 108.0,534.1 108.4,535.4 108.8,536.8 109.2,538.3 109.6,539.8 110.1,541.1 110.6,542.4 111.1,544.0 111.7,545.6 112.2,546.9 112.8,548.4 113.4,550.2 114.0,551.3 114.6,552.3 115.3,553.5 115.9,555.1 116.5,556.8 117.1,558.1 117.7,559.1 118.3,560.3 118.9,561.9 119.5,563.7 120.0,565.5 120.5,566.7 121.0,567.8 121.5,569.2 121.9,570.6 122.3,572.0 122.7,573.4 123.0,574.8 123.3,576.3 123.6,577.8 123.9,579.2 124.1,580.7 124.4,582.2 124.6,583.7 124.8,585.2 125.1,586.7 125.3,588.2 125.5,589.6 125.8,591.1 126.0,592.6 126.3,594.1 126.5,595.5 126.8,597.0 127.1,598.6 127.4,600.2 127.8,601.7 128.2,603.2 128.6,604.6 129.1,605.6 129.7,606.7 130.4,608.8 131.1,611.3 131.9,610.5 132.8,609.1 133.7,612.2 134.7,614.7 135.7,615.9 136.7,617.2 137.9,619.1 139.1,621.3 140.3,621.0 141.6,621.5 143.0,624.5 144.4,624.8 145.9,623.8 147.4,623.2 148.7,622.7 149.7,622.5 150.6,620.1 151.4,617.6 152.1,615.6 152.7,613.3 153.4,612.0 154.0,611.2 154.5,610.3 155.1,609.1 155.6,607.3 156.2,605.4 156.7,604.3 157.3,603.4 157.8,602.1 158.4,600.2 159.0,598.5 159.8,598.0 160.6,597.1 161.6,595.0 162.9,593.6 164.3,593.7 165.7,593.6 166.6,593.7 167.3,591.8 167.8,589.5 168.2,587.8 168.5,586.4 168.8,585.0 169.0,583.5 169.3,582.1 169.5,580.6 169.7,579.1 169.9,577.6 170.0,576.1 170.2,574.6 170.4,573.1 170.5,571.6 170.7,570.1 170.8,568.7 171.0,567.2 171.1,565.7 171.3,564.2 171.4,562.7 171.5,561.2 171.7,559.7 171.8,558.2 172.0,556.7 172.2,555.2 172.3,553.7 172.5,552.2 172.7,550.8 172.8,549.3 173.0,547.8 173.2,546.3 173.4,544.8 173.7,543.3 173.9,541.8 174.1,540.4 174.3,538.9 174.6,537.4 174.8,535.9 175.1,534.4 175.3,532.9 175.5,531.5 175.8,530.0 176.0,528.5 176.2,527.0 176.5,525.5 176.7,524.1 176.9,522.6 177.1,521.1 177.3,519.6 177.5,518.1 177.7,516.6 177.9,515.1 178.1,513.6 178.3,512.2 178.4,510.7 178.6,509.2 178.7,507.7 178.9,506.2 179.0,504.7 179.1,503.2 179.3,501.7 179.4,500.2 179.5,498.7 179.6,497.2 179.7,495.7 179.8,494.2 179.9,492.7 180.0,491.2 180.1,489.7 180.2,488.2 180.3,486.7 180.4,485.2 180.4,483.7 180.5,482.2 180.6,480.7 180.7,479.3 180.8,477.8 180.9,476.3 180.9,474.8 181.0,473.3 181.1,471.8 181.2,470.3 181.3,468.8 181.4,467.3 181.5,465.8 181.5,464.3 181.6,462.8 181.7,461.3 181.8,459.8 181.9,458.3 182.0,456.8 182.1,455.3 182.2,453.8 182.3,452.3 182.4,450.8 182.5,449.3 182.6,447.8 182.8,446.3 182.9,444.8 183.0,443.3 183.2,441.8 183.3,440.3 183.4,438.8 183.6,437.4 183.7,435.9 183.9,434.4 184.1,432.9 184.2,431.4 184.4,429.9 184.6,428.4 184.7,426.9 184.9,425.4 185.1,423.9 185.3,422.5 185.5,421.0 185.7,419.5 185.8,418.0 186.0,416.5 186.2,415.0 186.4,413.5 186.6,412.0 186.8,410.5 187.0,409.1 187.3,407.6 187.5,406.1 187.7,404.6 187.9,403.1 188.1,401.6 188.3,400.2 188.5,398.7 188.7,397.2 188.9,395.7 189.1,394.2 189.3,392.7 189.5,391.2 189.7,389.8 189.9,388.3 190.1,386.8 190.3,385.3 190.4,383.8 190.6,382.3 190.8,380.8 191.0,379.3 191.2,377.9 191.4,376.4 191.6,374.9 191.8,373.4 192.0,371.9 192.2,370.4 192.4,368.9 192.6,367.4 192.9,365.9 193.1,364.5 193.4,363.0 193.7,361.5 194.1,360.0 194.8,357.7 195.7,358.5 196.1,361.1 196.4,362.6 196.7,364.0 196.9,365.5 197.1,367.0 197.3,368.5 197.5,370.0 197.7,371.5 197.9,373.0 198.1,374.5 198.2,376.0 198.4,377.5 198.6,379.0 198.8,380.4 199.0,381.9 199.2,383.4 199.4,384.9 199.6,386.4 199.9,387.9 200.1,389.3 200.3,390.8 200.5,392.3 200.7,393.8 200.9,395.3 201.1,396.8 201.3,398.3 201.5,399.7 201.7,401.2 201.9,402.7 202.1,404.2 202.3,405.7 202.5,407.2 202.6,408.7 202.8,410.2 203.0,411.7 203.2,413.1 203.4,414.6 203.5,416.1 203.7,417.6 203.9,419.1 204.1,420.6 204.2,422.1 204.4,423.5 204.6,425.0 204.8,426.5 205.0,428.0 205.2,429.5 205.3,431.0 205.5,432.5 205.7,434.0 205.9,435.5 206.0,437.0 206.2,438.5 206.3,440.0 206.5,441.4 206.6,442.9 206.7,444.4 206.9,445.9 207.0,447.4 207.1,448.9 207.2,450.4 207.3,451.9 207.5,453.4 207.6,454.9 207.7,456.4 207.8,457.9 207.9,459.4 208.0,460.9 208.1,462.4 208.2,463.9 208.3,465.4 208.4,466.9 208.5,468.4 208.6,469.9 208.6,471.4 208.7,472.9 208.8,474.4 208.9,475.9 209.0,477.4 209.1,478.9 209.2,480.3 209.3,481.8 209.3,483.3 209.4,484.8 209.5,486.3 209.6,487.8 209.7,489.3 209.8,490.8 209.9,492.3 209.9,493.8 210.0,495.3 210.1,496.8 210.2,498.3 210.3,499.8 210.4,501.3 210.5,502.8 210.5,504.3 210.6,505.8 210.7,507.3 210.8,508.8 210.9,510.3 211.0,511.8 211.1,513.3 211.2,514.8 211.3,516.3 211.4,517.8 211.4,519.3 211.5,520.8 211.6,522.3 211.7,523.8 211.8,525.3 211.9,526.8 212.0,528.3 212.1,529.8 212.2,531.3 212.3,532.8 212.4,534.2 212.6,535.7 212.7,537.2 212.8,538.7 212.9,540.2 213.0,541.7 213.1,543.2 213.3,544.7 213.4,546.2 213.5,547.7 213.6,549.2 213.8,550.7 213.9,552.2 214.0,553.7 214.2,555.2 214.3,556.7 214.4,558.2 214.6,559.7 214.7,561.2 214.8,562.7 215.0,564.1 215.1,565.6 215.3,567.1 215.4,568.6 215.5,570.1 215.7,571.6 215.8,573.1 216.0,574.6 216.1,576.1 216.3,577.6 216.4,579.1 216.6,580.6 216.7,582.1 216.9,583.5 217.0,585.0 217.2,586.5 217.3,588.0 217.5,589.5 217.6,591.0 217.8,592.5 218.0,594.0 218.1,595.5 218.3,597.0 218.4,598.5 218.6,600.0 218.8,601.5 218.9,602.9 219.1,604.4 219.2,605.9 219.4,607.4 219.6,608.9 219.7,610.4 219.9,611.9 220.1,613.4 220.3,614.9 220.4,616.3 220.6,617.8 220.8,619.3 221.0,620.8 221.2,622.3 221.4,623.8 221.7,625.1 222.1,623.1 222.8,622.7 223.4,628.4 223.7,630.7 224.1,632.3 224.3,633.8 224.6,635.2 224.9,636.7 225.1,638.3 225.4,639.7 225.6,641.2 225.9,642.6 226.1,644.1 226.3,645.6 226.6,647.1 226.8,648.6 227.1,650.1 227.3,651.6 227.6,653.1 227.8,654.5 228.1,655.9 228.4,657.4 228.6,658.8 228.9,660.3 229.2,661.8 229.5,663.3 229.9,664.7 230.2,665.9 230.6,667.6 231.0,669.3 231.5,669.6 232.1,670.2 232.7,671.5 233.6,670.0 234.6,671.8 235.8,673.7 237.0,673.5 238.2,678.1 239.3,679.2 240.5,676.2 241.7,680.8 243.0,685.7 244.3,684.9 245.6,686.0 246.8,687.0 248.1,687.1 249.4,689.7 250.6,687.8 251.8,685.0 253.0,689.5 254.1,694.2 255.1,692.7 255.9,691.2 256.7,694.2 257.4,696.7 258.0,697.6 258.7,699.7 259.3,701.6 260.1,701.7 261.0,702.0 262.0,703.5 263.3,705.6 264.8,703.2 266.3,700.1 267.7,701.0 269.2,702.5 270.6,704.1 272.0,701.9 273.4,696.5 274.8,697.1 276.2,702.1 277.6,703.6 279.1,707.1 280.6,713.2 282.1,709.9 283.6,703.8 285.0,706.0 286.5,708.2 287.9,701.7 289.3,695.3 290.7,698.6 292.1,706.3 293.4,706.7 294.8,702.0 296.1,704.3 297.5,706.5 298.9,705.3 300.2,704.0 301.6,705.9 303.0,709.2 304.4,709.8 305.9,710.2 307.3,708.0 308.7,705.8 310.2,706.2 311.6,707.0 313.0,711.4 314.5,713.5 315.9,705.8 317.4,702.5 318.8,711.7 320.3,720.8 321.7,722.5 323.2,722.6 324.6,719.2 326.1,713.2 327.6,707.3 329.1,701.9 330.6,706.8 332.1,711.0 333.6,703.5 335.1,698.2 336.5,702.7 337.9,711.5 339.2,720.4 340.5,724.9 341.7,717.0 342.8,701.8 344.0,697.4 345.1,706.4 346.3,709.0 347.5,702.0 348.8,700.6 350.2,703.5 351.6,704.8 353.1,706.1 354.6,709.6 356.1,711.3 357.6,710.1 359.1,713.6 360.6,714.3 362.0,705.2 363.5,702.6 365.0,711.6 366.5,716.8 368.0,714.8 369.4,712.3 370.9,710.9 372.4,709.6 373.9,708.2 375.4,709.3 376.9,710.4 378.4,711.3 379.9,714.3 381.4,711.5 382.8,706.9 384.3,704.1 385.8,701.8 387.1,710.3 388.4,717.5 389.7,711.6 390.9,705.6 392.1,704.5 393.2,703.3 394.3,701.1 395.5,700.3 396.6,697.7 397.8,695.6 399.0,696.2 400.3,692.6 401.6,692.6 402.9,700.0 404.4,695.9 405.8,690.1 407.3,695.1 408.8,696.5 410.3,696.1 411.8,695.2 413.3,685.6 414.8,679.8 416.3,687.5 417.8,696.0 419.3,696.2 420.8,691.9 422.3,691.7 423.8,694.0 425.3,692.6 426.8,692.4 428.2,692.0 429.7,693.2 431.2,696.0 432.7,693.3 434.2,691.5 435.7,691.4 437.2,691.8 438.7,697.0 440.2,702.2 441.7,703.1 443.2,698.3 444.7,694.9 446.2,693.2 447.7,689.3 449.2,691.1 450.6,695.5 452.1,692.6 453.5,684.7 454.9,685.5 456.3,692.3 457.6,687.1 458.9,678.7 460.1,680.1 461.3,687.2 462.4,690.9 463.4,690.0 464.5,689.4 465.4,687.4 466.4,686.3 467.3,684.9 468.2,681.3 469.1,679.0 470.0,676.4 470.9,675.5 471.8,675.7 472.7,673.5 473.7,671.7 474.6,670.5 475.6,669.7 476.7,671.4 477.7,674.0 478.9,672.6 480.1,672.9 481.4,669.4 482.6,657.4 483.9,651.3 485.2,652.6 486.5,659.8 487.9,666.1 489.2,665.9 490.6,661.4 492.0,660.4 493.4,664.7 494.8,662.4 496.3,655.1 497.7,653.4 499.2,655.9 500.7,655.6 502.2,655.6 503.7,658.9 505.1,659.0 506.4,660.1 507.3,662.3 508.1,660.6 508.7,661.8 509.2,664.3 509.7,665.8 510.1,667.1 510.5,668.5 510.9,669.9 511.3,671.0 511.8,672.1 512.4,674.1 513.0,675.2 513.8,677.2 514.7,681.8 515.8,687.3 517.1,688.9 518.5,679.3 520.0,675.1 521.5,681.8 523.0,684.8 524.5,678.0 526.0,674.6 527.4,677.8 528.9,675.6 530.3,676.1 531.8,678.3 533.2,674.3 534.6,673.6 536.0,676.1 537.5,675.8 538.9,673.7 540.3,671.1 541.7,669.7 543.1,666.2 544.6,668.6 546.0,677.7 547.4,679.6 548.8,674.7 550.3,669.6 551.7,668.9 553.2,667.3 554.6,665.7 556.1,668.3 557.6,667.9 559.1,664.6 560.5,665.2 562.0,671.7 563.5,674.7 565.0,670.0 566.5,664.6 567.9,666.7 569.4,671.1 570.9,669.4 572.4,668.0 573.9,665.6 575.4,665.0 576.9,665.4 578.3,660.4 579.8,660.9 581.3,660.4 582.8,657.1 584.3,661.8 585.8,665.4 587.3,662.2 588.8,660.5 590.3,665.5 591.8,669.2 593.3,670.2 594.8,672.9 596.2,672.3 597.7,671.5 599.2,669.7 600.7,663.0 602.2,661.4 603.7,665.7 605.2,669.7 606.7,673.0 608.2,671.8 609.7,667.6 611.2,665.2 612.7,663.5 614.2,662.4 615.7,664.9 617.2,667.5 618.7,665.0 620.2,663.6 621.7,664.2 623.2,662.8 624.7,658.4 626.2,656.0 627.7,660.7 629.2,664.2 630.7,665.4 632.2,663.0 633.7,663.5 635.2,671.9 636.7,671.9 638.1,664.0 639.6,661.4 641.1,666.8 642.6,669.5 644.1,667.5 645.6,670.8 647.1,673.3 648.6,668.3 650.1,667.7 651.6,673.6 653.1,673.1 654.6,674.3 656.1,678.9 657.6,674.6 659.1,669.8 660.6,669.5 662.1,669.0 663.6,670.1 665.0,669.7 666.5,667.4 668.0,668.8 669.4,672.2 670.9,674.1 672.3,675.5 673.8,675.5 675.3,674.1 676.7,672.0 678.2,668.7 679.7,669.5 681.2,668.3 682.7,662.9 684.2,671.1 685.7,676.3 687.2,668.0 688.6,664.4 690.1,661.9 691.5,666.0 693.0,674.8 694.4,672.1 695.8,661.9 697.3,655.9 698.7,659.6 700.1,666.5 701.6,668.2 703.0,669.1 704.5,672.1 706.0,674.3 707.4,674.9 708.9,670.6 710.4,669.3 711.9,669.9 713.4,667.2 714.9,671.1 716.4,672.5 717.9,669.8 719.4,669.7 720.9,670.4 722.4,671.6 723.9,669.7 725.4,669.7 726.9,672.9 728.4,674.7 729.9,676.2 731.4,672.6 732.9,669.2 734.4,673.1 735.9,673.1 737.4,667.7 738.9,669.8 740.4,672.9 741.9,667.0 743.4,664.9 744.9,666.6 746.4,660.8 747.9,654.8 749.4,659.5 750.8,669.7 752.3,674.7 753.8,674.7 755.3,670.7 756.8,667.9 758.2,673.4 759.7,675.6 761.1,672.5 762.4,672.5 763.8,671.1 765.1,670.3 766.4,667.4 767.7,665.0 768.9,667.0 770.2,663.7 771.4,660.0 772.7,660.5 774.0,662.3 775.4,662.3 776.8,662.6 778.2,664.4 779.7,660.9 781.2,650.7 782.7,644.4 784.2,649.4 785.7,653.1 787.2,650.7 788.6,652.3 790.1,658.8 791.6,665.1 793.0,667.9 794.5,663.1 796.0,656.5 797.5,653.7 798.9,653.7 800.4,658.4 801.9,659.5 803.4,656.4 804.9,656.5 806.4,656.4 807.9,658.7 809.4,669.4 810.9,676.0 812.4,671.1 813.9,665.9 815.4,662.1 816.9,663.6 818.3,668.0 819.8,664.9 821.3,662.2 822.8,663.5 824.3,664.3 825.8,664.6 827.3,662.3 828.8,658.5 830.3,662.2 831.8,665.6 833.3,659.7 834.8,660.5 836.3,667.5 837.8,669.0 839.3,663.3 840.8,656.1 842.2,656.0 843.6,654.4 845.1,654.1 846.4,661.6 847.8,662.0 849.0,652.6 850.3,648.7 851.6,651.1 852.8,650.1 854.0,651.9 855.1,658.6 856.3,656.0 857.4,647.7 858.6,649.6 859.7,658.9 860.8,657.9 862.0,648.4 863.1,647.4 864.2,647.0 865.3,639.7 866.4,639.9 867.6,643.4 868.7,638.5 869.9,632.6 871.0,629.4 872.2,631.3 873.4,633.8 874.7,628.6 875.9,624.0 877.2,629.3 878.6,636.0 879.9,632.2 881.3,626.7 882.7,628.0 884.1,629.4 885.5,624.5 887.0,620.2 888.4,623.6 889.9,627.9 891.3,626.8 892.8,625.1 894.3,627.4 895.7,623.8 897.2,622.1 898.7,628.1 900.1,628.4 901.6,626.9 903.1,628.7 904.5,632.1 905.9,634.0 907.4,632.5 908.8,625.5 910.1,614.5 911.5,612.4 912.9,616.5 914.2,617.5 915.5,619.4 916.8,617.0 918.1,610.1 919.4,607.5 920.7,607.7 921.9,609.1 923.2,613.4 924.4,619.0 925.7,618.4 927.0,611.1 928.2,611.9 929.5,619.2 930.7,619.0 932.0,609.5 933.2,600.0 934.5,601.8 935.8,606.8 937.0,610.5 938.3,614.8 939.6,612.1 940.9,605.7 942.3,600.0 943.6,597.4 945.0,598.2 946.3,599.0 947.7,600.8 949.1,602.8 950.4,604.1 951.8,601.4 953.2,595.9 954.6,596.9 956.0,602.3 957.4,603.7 958.8,599.8 960.2,595.7 961.6,594.3 963.0,596.4 964.4,596.2 965.8,591.8 967.3,590.7 968.7,593.3 970.1,592.4 971.5,590.2 972.9,591.9 974.3,595.0 975.7,600.1 977.1,598.6 978.5,589.3 979.9,590.3 981.3,598.0 982.7,596.2 984.1,589.9 985.5,586.1 986.9,586.9 988.3,590.7 989.7,588.9 991.2,586.9 992.6,590.4 994.0,588.2 995.4,585.0 996.8,587.5 998.2,588.1 999.5,586.2 1000.9,583.8 1002.3,579.9 1003.6,576.9 1005.0,576.3 1006.3,575.4 1007.6,572.3 1009.0,569.2 1010.3,574.6 1011.5,581.4 1012.8,582.6 1014.0,579.6 1015.3,576.2 1016.5,581.0 1017.7,579.6 1018.9,568.3 1020.1,563.7 1021.3,565.3 1022.5,567.2 1023.7,563.1 1024.9,558.4 1026.1,562.6 1027.3,562.9 1028.5,561.3 1029.7,563.9 1030.9,564.6 1032.1,565.6 1033.3,563.4 1034.5,560.8 1035.8,563.3 1037.0,561.2 1038.3,552.2 1039.6,546.5 1040.9,549.9 1042.2,554.0 1043.5,556.2 1044.9,558.8 1046.3,556.1 1047.7,552.8 1049.1,550.5 1050.5,547.0 1051.9,546.1 1053.3,541.9 1054.8,535.0 1056.2,538.7 1057.6,547.2 1059.0,547.9 1060.5,543.7 1061.9,540.3 1063.3,543.3 1064.7,548.5 1066.1,546.6 1067.5,546.2 1068.9,549.2 1070.3,545.7 1071.6,543.8 1072.9,542.9 1074.1,538.7 1075.3,538.4 1076.4,536.8 1077.5,534.8 1078.4,536.6 1079.4,538.4 1080.3,538.6 1081.1,537.4 1081.9,537.3 1082.7,538.8 1083.5,538.1 1084.3,534.8 1085.1,530.8 1086.0,525.2 1086.9,522.0 1087.9,524.0 1089.0,525.2 1090.1,520.9 1091.4,519.6 1092.7,523.2 1094.0,518.2 1095.4,516.7 1096.8,517.8 1098.2,511.6 1099.7,507.0 1101.1,504.0 1102.6,502.4 1104.1,505.6 1105.5,513.0 1107.0,516.4 1108.5,517.3 1110.0,522.3 1111.5,523.0 1113.0,517.2 1114.5,513.5 1116.0,512.6 1117.4,515.5 1118.9,520.2 1120.3,518.7 1121.8,514.9 1123.3,516.2 1124.8,518.0 1126.3,517.8 1127.7,518.5 1129.2,521.7 1130.6,526.3 1132.0,523.2 1133.3,515.0 1134.6,516.2 1135.8,519.1 1136.9,517.9 1138.1,518.4 1139.2,518.1 1140.4,515.4 1141.5,512.5 1142.6,511.4 1143.8,507.6 1144.9,500.0 1146.1,496.7 1147.4,501.5 1148.7,508.2 1150.0,507.5 1151.4,503.9 1152.8,501.2 1154.2,497.0 1155.7,497.3 1157.1,500.2 1158.6,501.8 1160.1,504.0 1161.5,501.8 1163.0,497.8 1164.5,496.6 1166.0,496.7 1167.5,500.4 1169.0,508.1 1170.5,507.5 1172.0,498.3 1173.3,498.4 1174.6,500.4 1175.8,496.2 1177.0,495.1 1178.4,492.9 1179.8,491.7 1181.0,498.8 1181.6,501.4 1182.0,500.2 1182.3,498.8 1182.5,497.3 1182.7,495.8 1182.9,494.3 1183.0,492.8 1183.2,491.3 1183.3,489.9 1183.5,488.4 1183.6,486.9 1183.8,485.4 1183.9,483.9 1184.1,482.4 1184.4,481.0 1184.7,479.5 1185.1,477.7 1185.7,473.2 1186.6,467.4 1187.9,473.1 1189.4,477.3 1190.8,479.4 1192.1,481.5 1193.4,480.8 1194.7,481.3 1196.0,481.2 1197.4,481.0 1198.7,480.9 1200.2,484.3 1201.6,486.3 1203.0,480.7 1204.4,477.6 1205.8,480.6 1207.2,489.0 1208.6,494.1 1210.0,483.6 1211.4,474.7 1212.8,476.2 1214.3,478.0 1215.8,482.1 1217.2,485.1 1218.7,483.4 1220.2,480.5 1221.7,480.2 1223.0,483.6 1224.2,486.6 1225.4,490.5 1226.5,488.9 1227.7,481.1 1228.9,478.7 1230.3,481.4 1231.7,479.2 1233.2,473.4 1234.7,478.4 1236.2,485.3 1237.6,482.2 1239.0,479.7 1240.3,477.8 1241.7,477.7 1243.0,483.4 1244.4,485.7 1245.7,485.9 1247.1,488.7 1248.4,485.4 1249.8,480.1 1251.2,482.5 1252.6,484.8 1254.1,484.3 1255.6,482.4 1257.0,484.1 1258.5,489.4 1260.0,488.9 1261.5,486.0 1263.0,486.0 1264.4,487.0 1265.9,482.2 1267.3,475.2 1268.7,477.1 1270.1,483.8 1271.5,489.5 1272.9,488.7 1274.2,485.8 1275.6,488.2 1277.0,486.6 1278.4,481.7 1279.7,477.5 1281.1,478.4 1282.5,482.4 1284.0,479.5 1285.4,478.9 1286.9,485.0 1288.3,483.4 1289.8,474.6 1291.3,474.2 1292.8,481.7 1294.3,491.2 1295.7,493.1 1297.1,486.1 1298.4,484.5 1299.8,488.6 1301.1,488.5 1302.3,486.3 1303.6,485.5 1304.8,478.5 1306.1,470.8 1307.3,475.6 1308.5,485.9 1309.8,485.8 1311.1,476.5 1312.4,476.4 1313.8,478.3 1315.3,476.8 1316.8,486.9 1318.2,488.5 1319.7,480.7 1321.1,485.1 1322.4,491.1 1323.6,492.3 1324.8,488.9 1326.0,484.4 1327.0,485.2" stroke="#00FF00" fill="none" stroke-width="3.0" stroke-linejoin="round"/>
</g>
<rect x="1036" y="156.6" width="98" height="3.0" fill="#000000"/><rect x="1036" y="159.6" width="98" height="2.1" fill="#6b5a6b"/><rect x="1036" y="211" width="98" height="3.0" fill="#FF0080"/><rect x="1036" y="214" width="98" height="2.7" fill="#FFA8D4"/><rect x="1036" y="263.2" width="98" height="2.0" fill="#FFB8FF"/><rect x="1036" y="265.2" width="98" height="2.8" fill="#FF00FF"/><rect x="1036" y="317.2" width="98" height="2.5" fill="#7878FF"/><rect x="1036" y="319.7" width="98" height="3.3" fill="#0000FF"/><rect x="1036" y="372" width="98" height="4.8" fill="#007F00"/><rect x="1036" y="426" width="98" height="3.0" fill="#00FF00"/><rect x="1036" y="429" width="98" height="2.8" fill="#00F060"/>
<rect x="189.5" y="927" width="5" height="14" fill="#111"/><rect x="333.5" y="934" width="5" height="7" fill="#111"/><rect x="475.5" y="927" width="5" height="14" fill="#111"/><rect x="617.5" y="934" width="5" height="7" fill="#111"/><rect x="758.5" y="927" width="5" height="14" fill="#111"/><rect x="899.5" y="934" width="5" height="7" fill="#111"/><rect x="1042.5" y="927" width="5" height="14" fill="#111"/><rect x="1184.5" y="934" width="5" height="7" fill="#111"/>
<rect x="99" y="39" width="3" height="907" fill="#3a4a42"/>
<rect x="102" y="39" width="3" height="907" fill="#060206"/>
<rect x="1325" y="42" width="3" height="899" fill="#9aa89c"/>
<rect x="1328" y="39" width="3" height="907" fill="#000"/>
<rect x="99" y="39" width="1232" height="3" fill="#000"/>
<rect x="105" y="42" width="1220" height="3" fill="#d4dcd4"/>
<rect x="99" y="941" width="1232" height="5" fill="#1e1a1a"/>
<g fill="#000" stroke="#fcfcfd" stroke-width="0.5">
<text x="192" y="998" font-size="42" text-anchor="middle" textLength="25.7" lengthAdjust="spacingAndGlyphs" font-weight="bold">5</text><text x="478" y="998" font-size="42" text-anchor="middle" textLength="50.1" lengthAdjust="spacingAndGlyphs" font-weight="bold">10</text><text x="762.4" y="998" font-size="42" text-anchor="middle" textLength="51.2" lengthAdjust="spacingAndGlyphs" font-weight="bold">15</text><text x="1044.4" y="998" font-size="42" text-anchor="middle" textLength="53.3" lengthAdjust="spacingAndGlyphs" font-weight="bold">20</text><text x="1327.6" y="998" font-size="42" text-anchor="middle" textLength="53.3" lengthAdjust="spacingAndGlyphs" font-weight="bold">25</text><text x="158" y="190.7" font-size="43" font-weight="bold">(100)</text><text x="451.5" y="625.3" font-size="43" font-weight="bold">(200)</text><text x="321" y="341.2" font-size="41" textLength="620" lengthAdjust="spacing" font-weight="bold">films from a 20 mg/ml solution</text><text x="781" y="113.5" font-size="42" textLength="466" lengthAdjust="spacing" font-weight="bold">spin-coating rate (rpm)</text><text x="1157" y="172.5" font-size="42" textLength="72" lengthAdjust="spacingAndGlyphs" font-weight="bold">750</text><text x="1145" y="227" font-size="42" textLength="96.1" lengthAdjust="spacingAndGlyphs" font-weight="bold">1000</text><text x="1145" y="281" font-size="42" textLength="96.1" lengthAdjust="spacingAndGlyphs" font-weight="bold">1250</text><text x="1145" y="334" font-size="42" textLength="96.1" lengthAdjust="spacingAndGlyphs" font-weight="bold">1500</text><text x="1143" y="390" font-size="42" textLength="96.9" lengthAdjust="spacingAndGlyphs" font-weight="bold">3000</text><text x="1143" y="444.5" font-size="42" textLength="96.9" lengthAdjust="spacingAndGlyphs" font-weight="bold">4500</text><text x="585.5" y="1074" font-size="45" font-weight="bold">2</text><text x="611.5" y="1074" font-size="42" font-weight="normal" stroke="none">Θ</text><text x="651.5" y="1073.5" font-size="42" font-weight="normal" stroke="none">(</text><text x="665.5" y="1073" font-size="43" font-weight="bold">degrees</text><text x="828.5" y="1073.5" font-size="42" font-weight="normal" stroke="none">)</text><text x="-3" y="0" font-size="46" textLength="185" lengthAdjust="spacing" transform="translate(67,671) rotate(-90)" font-weight="bold">Intensity</text><text x="192" y="0" font-size="44" transform="translate(67,671) rotate(-90)" font-weight="normal" stroke="none">(</text><text x="208.5" y="0" font-size="45" transform="translate(67,671) rotate(-90)" font-weight="bold">a.u.</text><text x="283.5" y="0" font-size="44" transform="translate(67,671) rotate(-90)" font-weight="normal" stroke="none">)</text><text x="500" y="289.3" font-size="44" font-weight="bold">P</text><text x="530.3" y="289.3" font-size="44" font-weight="bold">3</text><text x="551.3" y="289.3" font-size="44" font-weight="bold">H</text><text x="587.1" y="289.3" font-size="44" font-weight="bold">T</text>
</g>
</svg>
</body></html>
